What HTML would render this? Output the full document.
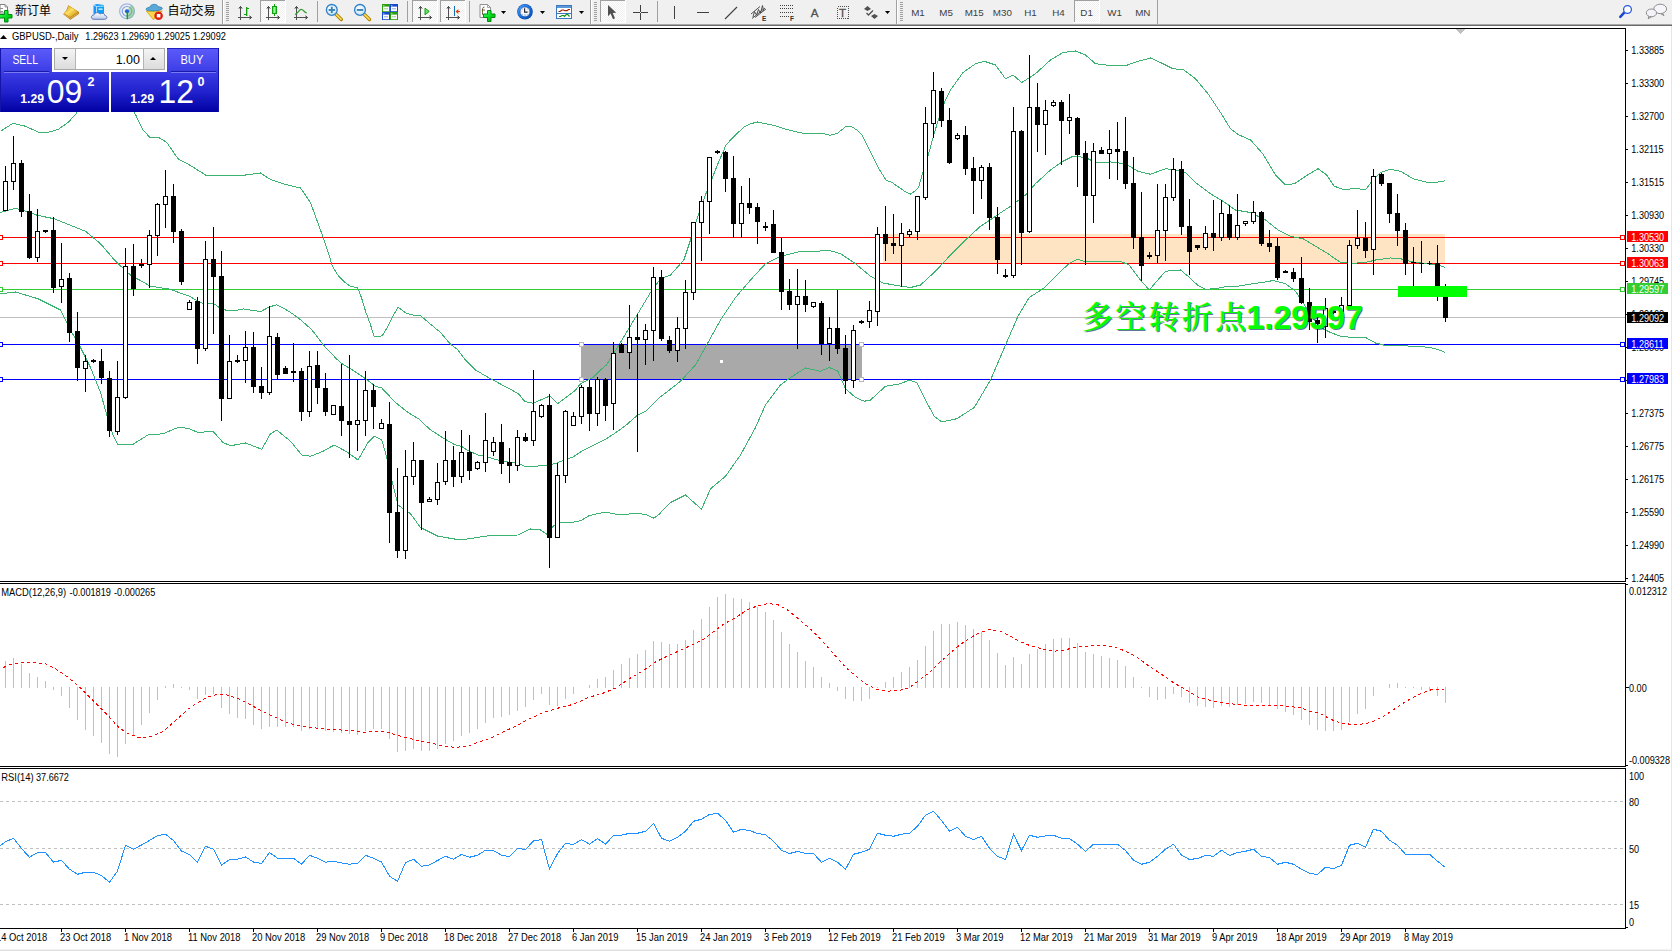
<!DOCTYPE html>
<html><head><meta charset="utf-8"><title>GBPUSD Daily</title>
<style>
html,body{margin:0;padding:0;background:#fff;}
body{width:1672px;height:951px;overflow:hidden;position:relative;font-family:"Liberation Sans","Noto Sans CJK SC",sans-serif;}
#tb{position:absolute;left:0;top:0;width:1672px;height:26px;background:#f0f0f0;}
</style></head><body>
<svg width="1672" height="951" viewBox="0 0 1672 951" style="position:absolute;left:0;top:0" shape-rendering="crispEdges"><rect x="0" y="26" width="1672" height="925" fill="#fff"/><defs><clipPath id="cm"><rect x="0" y="29" width="1625" height="552"/></clipPath><clipPath id="cmacd"><rect x="0" y="584" width="1625" height="182"/></clipPath><clipPath id="crsi"><rect x="0" y="769" width="1625" height="159"/></clipPath><linearGradient id="gb" x1="0" y1="0" x2="0" y2="1"><stop offset="0" stop-color="#5a5af8"/><stop offset="0.45" stop-color="#2222dc"/><stop offset="1" stop-color="#0000a8"/></linearGradient><linearGradient id="gb2" x1="0" y1="0" x2="0" y2="1"><stop offset="0" stop-color="#3a3aee"/><stop offset="0.5" stop-color="#1010c8"/><stop offset="1" stop-color="#0000a8"/></linearGradient><linearGradient id="gp" gradientUnits="userSpaceOnUse" x1="0" y1="48" x2="0" y2="112"><stop offset="0" stop-color="#5c5cfa"/><stop offset="0.38" stop-color="#3c3ce6"/><stop offset="0.7" stop-color="#2020cc"/><stop offset="1" stop-color="#0000a2"/></linearGradient><linearGradient id="gsp" x1="0" y1="0" x2="0" y2="1"><stop offset="0" stop-color="#f4f4f4"/><stop offset="1" stop-color="#dcdcdc"/></linearGradient></defs><g clip-path="url(#cm)"><rect x="883" y="234" width="562" height="30" fill="#ffe4c4"/><rect x="581" y="344" width="281" height="36" fill="#a9a9a9"/><rect x="0" y="317" width="1625" height="1" fill="#c0c0c0"/><rect x="0" y="237" width="1625" height="1" fill="#ff0000"/><rect x="0" y="263" width="1625" height="1" fill="#ff0000"/><rect x="0" y="289" width="1625" height="1" fill="#32cd32"/><rect x="0" y="344" width="1625" height="1" fill="#0000ff"/><rect x="0" y="379" width="1625" height="1" fill="#0000ff"/><path d="M0.50,131.25 L13.00,123.25 L25.50,126.25 L38.00,132.00 L45.50,133.00 L58.00,129.50 L68.00,122.50 L75.50,114.50 L85.50,100.00 L105.50,80.00 L120.50,90.00 L135.50,114.50 L143.00,130.00 L150.50,138.00 L158.00,137.00 L166.75,142.50 L178.00,158.75 L190.50,165.50 L205.50,175.00 L225.50,175.00 L245.50,175.00 L260.50,173.00 L270.50,179.50 L285.50,184.50 L300.50,188.00 L310.50,202.50 L320.50,230.00 L324.00,240.00 L328.30,253.00 L332.60,266.60 L338.40,275.90 L344.10,281.70 L349.90,286.00 L357.80,288.10 L361.40,297.50 L365.70,311.80 L370.00,323.30 L374.30,336.90 L382.20,335.90 L387.20,327.60 L392.90,316.10 L398.00,307.20 L405.80,313.00 L413.00,315.10 L420.50,315.50 L425.50,320.00 L440.50,332.50 L450.50,344.25 L458.00,350.00 L465.50,360.00 L475.50,370.00 L490.50,378.75 L511.80,390.00 L519.00,394.30 L524.70,401.50 L533.30,403.20 L540.50,400.00 L549.80,396.00 L557.70,403.60 L566.30,397.20 L575.00,390.70 L580.50,383.75 L593.00,377.50 L600.50,370.00 L606.50,365.00 L620.50,342.50 L635.50,317.50 L650.50,292.50 L660.50,278.75 L670.50,275.00 L683.90,259.90 L690.60,239.70 L697.30,217.80 L705.70,194.20 L712.50,177.40 L719.20,160.60 L725.90,145.40 L731.00,139.50 L737.70,132.80 L744.40,126.90 L751.20,123.60 L757.90,121.90 L764.60,123.60 L774.70,125.60 L784.80,128.90 L794.90,131.60 L803.30,133.30 L815.10,133.30 L823.50,133.70 L830.30,135.30 L837.80,133.10 L846.20,126.10 L852.10,126.90 L857.20,130.30 L862.20,135.30 L867.30,145.40 L874.00,158.90 L879.10,169.00 L885.80,179.90 L892.50,182.80 L899.20,187.50 L906.00,192.20 L910.20,194.20 L914.40,191.40 L918.60,187.50 L922.80,172.40 L926.20,162.30 L929.50,150.50 L934.60,132.00 L939.60,116.00 L945.50,100.00 L950.50,90.00 L963.00,72.50 L975.50,63.75 L984.25,61.25 L995.50,65.00 L1005.50,78.75 L1013.00,75.00 L1021.75,82.50 L1035.50,73.75 L1050.50,60.00 L1063.00,52.50 L1075.50,51.00 L1085.50,55.00 L1095.50,63.75 L1105.50,65.00 L1125.50,65.75 L1138.00,61.25 L1150.50,58.00 L1160.50,62.50 L1173.00,68.75 L1183.00,69.50 L1195.50,78.75 L1208.00,93.75 L1220.50,112.50 L1230.50,128.75 L1238.00,134.50 L1250.50,140.00 L1263.00,154.00 L1275.50,175.00 L1285.50,185.00 L1294.25,183.75 L1305.50,176.25 L1318.00,168.75 L1326.75,175.00 L1334.25,186.25 L1343.00,189.25 L1358.00,188.75 L1365.50,190.00 L1373.00,180.00 L1380.50,172.50 L1390.50,169.25 L1400.50,171.25 L1413.00,178.75 L1428.00,182.50 L1438.00,182.00 L1445.50,180.75" fill="none" stroke="#3cb371" stroke-width="1"/><path d="M0.50,212.50 L15.50,208.25 L25.50,211.25 L38.00,215.50 L54.25,218.75 L85.50,231.25 L100.50,243.75 L115.50,261.25 L130.50,275.00 L150.50,286.25 L170.50,289.25 L180.50,293.20 L189.10,296.00 L196.30,300.30 L203.50,303.50 L213.50,303.50 L219.30,307.50 L226.40,310.40 L237.90,310.10 L243.70,308.90 L250.80,310.10 L260.90,311.50 L269.50,306.80 L276.70,304.90 L281.00,306.80 L289.60,311.80 L298.20,317.80 L305.40,324.00 L311.10,329.00 L316.90,336.20 L322.60,344.10 L329.80,352.00 L336.90,359.20 L342.70,364.20 L350.50,368.75 L365.50,378.75 L375.50,386.25 L381.75,388.00 L395.50,402.50 L408.00,412.50 L418.50,418.70 L430.00,429.50 L444.30,438.80 L454.40,444.50 L461.50,446.30 L468.70,451.00 L478.80,455.30 L487.40,456.70 L496.00,459.60 L504.60,461.80 L514.70,462.50 L524.70,466.10 L536.20,466.10 L547.70,465.40 L556.30,463.20 L563.50,460.30 L573.50,456.70 L582.10,451.00 L593.60,445.30 L605.10,439.50 L615.10,433.10 L625.20,425.90 L636.70,415.80 L645.30,411.50 L653.90,402.90 L658.50,398.30 L663.00,395.00 L680.50,381.25 L695.50,365.00 L708.00,342.50 L720.50,320.00 L735.50,297.50 L750.50,280.00 L765.50,263.75 L780.50,256.25 L798.00,252.00 L810.50,251.25 L830.50,250.75 L840.50,253.75 L855.50,263.75 L870.50,276.25 L883.00,283.00 L898.00,285.75 L910.50,287.50 L920.50,285.00 L935.50,271.25 L950.50,255.00 L965.50,240.00 L980.50,226.25 L995.50,216.25 L1010.50,206.25 L1025.50,195.00 L1035.50,183.75 L1050.50,170.00 L1063.00,161.25 L1073.00,156.25 L1085.50,157.50 L1095.50,162.50 L1110.50,162.00 L1125.50,163.75 L1138.00,171.25 L1150.50,174.25 L1165.50,168.75 L1175.50,170.00 L1185.50,172.50 L1195.50,182.50 L1210.50,193.75 L1223.00,201.25 L1235.50,210.00 L1250.50,212.50 L1265.50,220.00 L1278.00,230.00 L1290.50,236.25 L1303.00,238.75 L1315.50,246.25 L1328.00,253.75 L1340.50,262.50 L1353.00,263.25 L1365.50,262.50 L1375.50,260.00 L1390.50,258.00 L1400.50,258.75 L1413.00,262.00 L1428.00,263.75 L1438.00,265.00 L1445.50,267.50" fill="none" stroke="#3cb371" stroke-width="1"/><path d="M0.50,293.75 L15.50,292.00 L38.00,298.75 L60.50,310.00 L70.50,330.00 L80.50,347.50 L90.50,367.50 L100.50,392.50 L106.75,415.00 L113.00,435.00 L118.00,445.00 L133.00,444.25 L148.00,435.00 L163.00,433.75 L178.00,427.50 L188.00,428.25 L198.00,432.50 L213.00,431.25 L223.00,442.50 L230.50,445.75 L245.50,443.00 L261.75,449.25 L270.50,433.75 L276.75,430.00 L290.50,441.25 L301.75,455.00 L310.50,456.25 L323.00,451.25 L334.25,445.00 L348.00,452.50 L358.00,460.00 L368.00,442.50 L374.25,436.25 L381.75,440.00 L386.75,457.50 L393.00,485.00 L398.00,505.00 L410.50,513.75 L420.50,527.50 L438.00,536.25 L460.50,540.00 L490.50,535.50 L518.00,535.00 L530.50,529.00 L540.50,530.00 L548.00,535.00 L553.00,526.25 L559.90,522.00 L570.60,522.80 L580.70,520.60 L589.30,515.60 L605.10,512.00 L619.50,514.90 L638.10,513.20 L646.70,514.90 L653.90,518.20 L658.50,514.90 L670.50,502.50 L685.50,495.00 L701.50,509.25 L710.50,488.75 L725.50,476.25 L740.50,455.00 L755.50,427.50 L765.50,405.00 L780.50,385.00 L790.50,377.50 L805.50,368.00 L820.50,371.25 L829.25,367.50 L838.00,371.25 L845.50,388.75 L855.50,397.50 L864.25,401.25 L870.50,400.00 L885.50,386.25 L900.50,383.75 L909.25,380.00 L916.75,382.50 L925.50,400.00 L934.25,416.25 L941.75,422.00 L956.75,418.75 L974.25,407.50 L990.50,380.00 L1005.50,345.00 L1018.00,316.25 L1029.25,297.50 L1043.00,288.75 L1060.50,271.25 L1070.50,262.50 L1078.00,259.25 L1085.50,262.00 L1100.50,261.25 L1120.50,261.25 L1129.25,265.00 L1140.50,280.00 L1149.25,290.00 L1156.75,281.25 L1165.50,271.25 L1180.50,270.00 L1188.00,276.25 L1198.00,285.50 L1205.50,289.25 L1215.50,288.75 L1225.50,286.75 L1238.00,286.25 L1253.00,283.75 L1265.50,282.00 L1273.00,280.50 L1285.50,283.75 L1295.50,291.25 L1303.00,302.50 L1310.50,315.00 L1320.50,327.50 L1330.50,332.50 L1340.50,336.25 L1353.00,337.50 L1365.50,337.50 L1375.50,343.00 L1385.50,345.50 L1400.50,345.75 L1415.50,346.25 L1430.50,347.50 L1438.00,349.50 L1445.50,352.50" fill="none" stroke="#3cb371" stroke-width="1"/><rect x="5" y="166" width="1" height="45" fill="#000"/><rect x="3" y="181" width="5" height="30" fill="#000"/><rect x="4" y="182" width="3" height="28" fill="#fff"/><rect x="13" y="136" width="1" height="54" fill="#000"/><rect x="11" y="163" width="5" height="19" fill="#000"/><rect x="12" y="164" width="3" height="17" fill="#fff"/><rect x="21" y="160" width="1" height="57" fill="#000"/><rect x="19" y="163" width="5" height="49" fill="#000"/><rect x="29" y="194" width="1" height="65" fill="#000"/><rect x="27" y="211" width="5" height="47" fill="#000"/><rect x="37" y="209" width="1" height="53" fill="#000"/><rect x="35" y="231" width="5" height="27" fill="#000"/><rect x="36" y="232" width="3" height="25" fill="#fff"/><rect x="45" y="230" width="1" height="3" fill="#000"/><rect x="43" y="230" width="5" height="2" fill="#000"/><rect x="53" y="217" width="1" height="76" fill="#000"/><rect x="51" y="230" width="5" height="58" fill="#000"/><rect x="61" y="243" width="1" height="60" fill="#000"/><rect x="59" y="279" width="5" height="8" fill="#000"/><rect x="60" y="280" width="3" height="6" fill="#fff"/><rect x="69" y="273" width="1" height="69" fill="#000"/><rect x="67" y="278" width="5" height="55" fill="#000"/><rect x="77" y="312" width="1" height="69" fill="#000"/><rect x="75" y="331" width="5" height="37" fill="#000"/><rect x="85" y="355" width="1" height="37" fill="#000"/><rect x="83" y="361" width="5" height="8" fill="#000"/><rect x="84" y="362" width="3" height="6" fill="#fff"/><rect x="93" y="359" width="1" height="4" fill="#000"/><rect x="91" y="360" width="5" height="2" fill="#000"/><rect x="101" y="349" width="1" height="35" fill="#000"/><rect x="99" y="361" width="5" height="17" fill="#000"/><rect x="109" y="371" width="1" height="66" fill="#000"/><rect x="107" y="378" width="5" height="53" fill="#000"/><rect x="117" y="361" width="1" height="74" fill="#000"/><rect x="115" y="397" width="5" height="35" fill="#000"/><rect x="116" y="398" width="3" height="33" fill="#fff"/><rect x="125" y="248" width="1" height="151" fill="#000"/><rect x="123" y="266" width="5" height="132" fill="#000"/><rect x="124" y="267" width="3" height="130" fill="#fff"/><rect x="133" y="244" width="1" height="52" fill="#000"/><rect x="131" y="266" width="5" height="23" fill="#000"/><rect x="141" y="259" width="1" height="9" fill="#000"/><rect x="139" y="264" width="5" height="2" fill="#000"/><rect x="149" y="230" width="1" height="58" fill="#000"/><rect x="147" y="235" width="5" height="30" fill="#000"/><rect x="148" y="236" width="3" height="28" fill="#fff"/><rect x="157" y="203" width="1" height="53" fill="#000"/><rect x="155" y="204" width="5" height="32" fill="#000"/><rect x="156" y="205" width="3" height="30" fill="#fff"/><rect x="165" y="170" width="1" height="58" fill="#000"/><rect x="163" y="196" width="5" height="9" fill="#000"/><rect x="164" y="197" width="3" height="7" fill="#fff"/><rect x="173" y="184" width="1" height="59" fill="#000"/><rect x="171" y="196" width="5" height="36" fill="#000"/><rect x="181" y="229" width="1" height="56" fill="#000"/><rect x="179" y="231" width="5" height="51" fill="#000"/><rect x="189" y="300" width="1" height="10" fill="#000"/><rect x="187" y="302" width="5" height="8" fill="#000"/><rect x="188" y="303" width="3" height="6" fill="#fff"/><rect x="197" y="297" width="1" height="67" fill="#000"/><rect x="195" y="301" width="5" height="48" fill="#000"/><rect x="205" y="241" width="1" height="110" fill="#000"/><rect x="203" y="259" width="5" height="90" fill="#000"/><rect x="204" y="260" width="3" height="88" fill="#fff"/><rect x="213" y="227" width="1" height="107" fill="#000"/><rect x="211" y="259" width="5" height="18" fill="#000"/><rect x="221" y="251" width="1" height="170" fill="#000"/><rect x="219" y="276" width="5" height="123" fill="#000"/><rect x="229" y="335" width="1" height="64" fill="#000"/><rect x="227" y="361" width="5" height="38" fill="#000"/><rect x="228" y="362" width="3" height="36" fill="#fff"/><rect x="237" y="355" width="1" height="8" fill="#000"/><rect x="235" y="360" width="5" height="2" fill="#000"/><rect x="245" y="331" width="1" height="52" fill="#000"/><rect x="243" y="347" width="5" height="14" fill="#000"/><rect x="244" y="348" width="3" height="12" fill="#fff"/><rect x="253" y="332" width="1" height="61" fill="#000"/><rect x="251" y="347" width="5" height="40" fill="#000"/><rect x="261" y="367" width="1" height="32" fill="#000"/><rect x="259" y="386" width="5" height="7" fill="#000"/><rect x="269" y="306" width="1" height="89" fill="#000"/><rect x="267" y="336" width="5" height="57" fill="#000"/><rect x="268" y="337" width="3" height="55" fill="#fff"/><rect x="277" y="333" width="1" height="47" fill="#000"/><rect x="275" y="337" width="5" height="38" fill="#000"/><rect x="285" y="366" width="1" height="8" fill="#000"/><rect x="283" y="368" width="5" height="6" fill="#000"/><rect x="293" y="343" width="1" height="39" fill="#000"/><rect x="291" y="371" width="5" height="2" fill="#000"/><rect x="301" y="368" width="1" height="53" fill="#000"/><rect x="299" y="371" width="5" height="41" fill="#000"/><rect x="309" y="351" width="1" height="66" fill="#000"/><rect x="307" y="366" width="5" height="46" fill="#000"/><rect x="308" y="367" width="3" height="44" fill="#fff"/><rect x="317" y="351" width="1" height="53" fill="#000"/><rect x="315" y="365" width="5" height="23" fill="#000"/><rect x="325" y="373" width="1" height="43" fill="#000"/><rect x="323" y="388" width="5" height="24" fill="#000"/><rect x="333" y="405" width="1" height="10" fill="#000"/><rect x="331" y="405" width="5" height="10" fill="#000"/><rect x="332" y="406" width="3" height="8" fill="#fff"/><rect x="341" y="364" width="1" height="72" fill="#000"/><rect x="339" y="406" width="5" height="15" fill="#000"/><rect x="349" y="355" width="1" height="103" fill="#000"/><rect x="347" y="421" width="5" height="4" fill="#000"/><rect x="357" y="379" width="1" height="72" fill="#000"/><rect x="355" y="420" width="5" height="5" fill="#000"/><rect x="356" y="421" width="3" height="3" fill="#fff"/><rect x="365" y="371" width="1" height="65" fill="#000"/><rect x="363" y="390" width="5" height="31" fill="#000"/><rect x="364" y="391" width="3" height="29" fill="#fff"/><rect x="373" y="384" width="1" height="45" fill="#000"/><rect x="371" y="390" width="5" height="17" fill="#000"/><rect x="381" y="419" width="1" height="10" fill="#000"/><rect x="379" y="423" width="5" height="6" fill="#000"/><rect x="380" y="424" width="3" height="4" fill="#fff"/><rect x="389" y="402" width="1" height="141" fill="#000"/><rect x="387" y="424" width="5" height="89" fill="#000"/><rect x="397" y="468" width="1" height="90" fill="#000"/><rect x="395" y="512" width="5" height="39" fill="#000"/><rect x="405" y="450" width="1" height="109" fill="#000"/><rect x="403" y="476" width="5" height="75" fill="#000"/><rect x="404" y="477" width="3" height="73" fill="#fff"/><rect x="413" y="442" width="1" height="43" fill="#000"/><rect x="411" y="460" width="5" height="17" fill="#000"/><rect x="412" y="461" width="3" height="15" fill="#fff"/><rect x="421" y="460" width="1" height="70" fill="#000"/><rect x="419" y="460" width="5" height="43" fill="#000"/><rect x="429" y="497" width="1" height="5" fill="#000"/><rect x="427" y="499" width="5" height="3" fill="#000"/><rect x="428" y="500" width="3" height="1" fill="#fff"/><rect x="437" y="463" width="1" height="42" fill="#000"/><rect x="435" y="482" width="5" height="18" fill="#000"/><rect x="436" y="483" width="3" height="16" fill="#fff"/><rect x="445" y="431" width="1" height="54" fill="#000"/><rect x="443" y="460" width="5" height="22" fill="#000"/><rect x="444" y="461" width="3" height="20" fill="#fff"/><rect x="453" y="446" width="1" height="41" fill="#000"/><rect x="451" y="460" width="5" height="17" fill="#000"/><rect x="461" y="430" width="1" height="53" fill="#000"/><rect x="459" y="452" width="5" height="25" fill="#000"/><rect x="460" y="453" width="3" height="23" fill="#fff"/><rect x="469" y="435" width="1" height="45" fill="#000"/><rect x="467" y="452" width="5" height="19" fill="#000"/><rect x="477" y="461" width="1" height="9" fill="#000"/><rect x="475" y="462" width="5" height="7" fill="#000"/><rect x="476" y="463" width="3" height="5" fill="#fff"/><rect x="485" y="413" width="1" height="59" fill="#000"/><rect x="483" y="440" width="5" height="23" fill="#000"/><rect x="484" y="441" width="3" height="21" fill="#fff"/><rect x="493" y="437" width="1" height="19" fill="#000"/><rect x="491" y="442" width="5" height="10" fill="#000"/><rect x="492" y="443" width="3" height="8" fill="#fff"/><rect x="501" y="424" width="1" height="50" fill="#000"/><rect x="499" y="442" width="5" height="22" fill="#000"/><rect x="509" y="448" width="1" height="35" fill="#000"/><rect x="507" y="462" width="5" height="4" fill="#000"/><rect x="517" y="430" width="1" height="41" fill="#000"/><rect x="515" y="437" width="5" height="29" fill="#000"/><rect x="516" y="438" width="3" height="27" fill="#fff"/><rect x="525" y="433" width="1" height="9" fill="#000"/><rect x="523" y="437" width="5" height="4" fill="#000"/><rect x="533" y="370" width="1" height="76" fill="#000"/><rect x="531" y="411" width="5" height="30" fill="#000"/><rect x="532" y="412" width="3" height="28" fill="#fff"/><rect x="541" y="404" width="1" height="14" fill="#000"/><rect x="539" y="405" width="5" height="12" fill="#000"/><rect x="540" y="406" width="3" height="10" fill="#fff"/><rect x="549" y="394" width="1" height="174" fill="#000"/><rect x="547" y="405" width="5" height="133" fill="#000"/><rect x="557" y="463" width="1" height="75" fill="#000"/><rect x="555" y="475" width="5" height="63" fill="#000"/><rect x="556" y="476" width="3" height="61" fill="#fff"/><rect x="565" y="410" width="1" height="73" fill="#000"/><rect x="563" y="411" width="5" height="65" fill="#000"/><rect x="564" y="412" width="3" height="63" fill="#fff"/><rect x="573" y="412" width="1" height="14" fill="#000"/><rect x="571" y="416" width="5" height="10" fill="#000"/><rect x="572" y="417" width="3" height="8" fill="#fff"/><rect x="581" y="385" width="1" height="39" fill="#000"/><rect x="579" y="387" width="5" height="30" fill="#000"/><rect x="580" y="388" width="3" height="28" fill="#fff"/><rect x="589" y="380" width="1" height="51" fill="#000"/><rect x="587" y="387" width="5" height="27" fill="#000"/><rect x="597" y="377" width="1" height="49" fill="#000"/><rect x="595" y="379" width="5" height="35" fill="#000"/><rect x="596" y="380" width="3" height="33" fill="#fff"/><rect x="605" y="378" width="1" height="43" fill="#000"/><rect x="603" y="379" width="5" height="27" fill="#000"/><rect x="613" y="342" width="1" height="88" fill="#000"/><rect x="611" y="353" width="5" height="51" fill="#000"/><rect x="612" y="354" width="3" height="49" fill="#fff"/><rect x="621" y="343" width="1" height="10" fill="#000"/><rect x="619" y="344" width="5" height="9" fill="#000"/><rect x="629" y="305" width="1" height="64" fill="#000"/><rect x="627" y="337" width="5" height="16" fill="#000"/><rect x="628" y="338" width="3" height="14" fill="#fff"/><rect x="637" y="314" width="1" height="138" fill="#000"/><rect x="635" y="337" width="5" height="3" fill="#000"/><rect x="645" y="324" width="1" height="41" fill="#000"/><rect x="643" y="330" width="5" height="10" fill="#000"/><rect x="644" y="331" width="3" height="8" fill="#fff"/><rect x="653" y="267" width="1" height="94" fill="#000"/><rect x="651" y="277" width="5" height="54" fill="#000"/><rect x="652" y="278" width="3" height="52" fill="#fff"/><rect x="661" y="270" width="1" height="71" fill="#000"/><rect x="659" y="277" width="5" height="62" fill="#000"/><rect x="669" y="336" width="1" height="17" fill="#000"/><rect x="667" y="340" width="5" height="11" fill="#000"/><rect x="677" y="317" width="1" height="45" fill="#000"/><rect x="675" y="328" width="5" height="23" fill="#000"/><rect x="676" y="329" width="3" height="21" fill="#fff"/><rect x="685" y="280" width="1" height="69" fill="#000"/><rect x="683" y="292" width="5" height="37" fill="#000"/><rect x="684" y="293" width="3" height="35" fill="#fff"/><rect x="693" y="222" width="1" height="78" fill="#000"/><rect x="691" y="222" width="5" height="71" fill="#000"/><rect x="692" y="223" width="3" height="69" fill="#fff"/><rect x="701" y="196" width="1" height="65" fill="#000"/><rect x="699" y="201" width="5" height="22" fill="#000"/><rect x="700" y="202" width="3" height="20" fill="#fff"/><rect x="709" y="157" width="1" height="77" fill="#000"/><rect x="707" y="157" width="5" height="45" fill="#000"/><rect x="708" y="158" width="3" height="43" fill="#fff"/><rect x="717" y="150" width="1" height="4" fill="#000"/><rect x="715" y="151" width="5" height="2" fill="#000"/><rect x="725" y="151" width="1" height="41" fill="#000"/><rect x="723" y="152" width="5" height="27" fill="#000"/><rect x="733" y="156" width="1" height="82" fill="#000"/><rect x="731" y="178" width="5" height="46" fill="#000"/><rect x="741" y="186" width="1" height="52" fill="#000"/><rect x="739" y="203" width="5" height="21" fill="#000"/><rect x="740" y="204" width="3" height="19" fill="#fff"/><rect x="749" y="178" width="1" height="36" fill="#000"/><rect x="747" y="203" width="5" height="5" fill="#000"/><rect x="757" y="203" width="1" height="41" fill="#000"/><rect x="755" y="207" width="5" height="15" fill="#000"/><rect x="765" y="222" width="1" height="9" fill="#000"/><rect x="763" y="226" width="5" height="2" fill="#000"/><rect x="773" y="210" width="1" height="43" fill="#000"/><rect x="771" y="224" width="5" height="29" fill="#000"/><rect x="781" y="238" width="1" height="72" fill="#000"/><rect x="779" y="252" width="5" height="40" fill="#000"/><rect x="789" y="279" width="1" height="31" fill="#000"/><rect x="787" y="291" width="5" height="14" fill="#000"/><rect x="797" y="269" width="1" height="80" fill="#000"/><rect x="795" y="296" width="5" height="9" fill="#000"/><rect x="796" y="297" width="3" height="7" fill="#fff"/><rect x="805" y="280" width="1" height="32" fill="#000"/><rect x="803" y="296" width="5" height="9" fill="#000"/><rect x="813" y="302" width="1" height="6" fill="#000"/><rect x="811" y="302" width="5" height="5" fill="#000"/><rect x="812" y="303" width="3" height="3" fill="#fff"/><rect x="821" y="301" width="1" height="54" fill="#000"/><rect x="819" y="303" width="5" height="41" fill="#000"/><rect x="829" y="317" width="1" height="44" fill="#000"/><rect x="827" y="328" width="5" height="16" fill="#000"/><rect x="828" y="329" width="3" height="14" fill="#fff"/><rect x="837" y="290" width="1" height="64" fill="#000"/><rect x="835" y="328" width="5" height="21" fill="#000"/><rect x="845" y="335" width="1" height="59" fill="#000"/><rect x="843" y="348" width="5" height="33" fill="#000"/><rect x="853" y="325" width="1" height="63" fill="#000"/><rect x="851" y="330" width="5" height="51" fill="#000"/><rect x="852" y="331" width="3" height="49" fill="#fff"/><rect x="861" y="320" width="1" height="4" fill="#000"/><rect x="859" y="321" width="5" height="2" fill="#000"/><rect x="869" y="301" width="1" height="27" fill="#000"/><rect x="867" y="310" width="5" height="12" fill="#000"/><rect x="868" y="311" width="3" height="10" fill="#fff"/><rect x="877" y="227" width="1" height="99" fill="#000"/><rect x="875" y="234" width="5" height="78" fill="#000"/><rect x="876" y="235" width="3" height="76" fill="#fff"/><rect x="885" y="206" width="1" height="55" fill="#000"/><rect x="883" y="234" width="5" height="10" fill="#000"/><rect x="893" y="214" width="1" height="40" fill="#000"/><rect x="891" y="243" width="5" height="3" fill="#000"/><rect x="901" y="223" width="1" height="64" fill="#000"/><rect x="899" y="233" width="5" height="13" fill="#000"/><rect x="900" y="234" width="3" height="11" fill="#fff"/><rect x="909" y="229" width="1" height="8" fill="#000"/><rect x="907" y="231" width="5" height="4" fill="#000"/><rect x="908" y="232" width="3" height="2" fill="#fff"/><rect x="917" y="196" width="1" height="44" fill="#000"/><rect x="915" y="196" width="5" height="36" fill="#000"/><rect x="916" y="197" width="3" height="34" fill="#fff"/><rect x="925" y="107" width="1" height="93" fill="#000"/><rect x="923" y="123" width="5" height="75" fill="#000"/><rect x="924" y="124" width="3" height="73" fill="#fff"/><rect x="933" y="72" width="1" height="66" fill="#000"/><rect x="931" y="90" width="5" height="34" fill="#000"/><rect x="932" y="91" width="3" height="32" fill="#fff"/><rect x="941" y="88" width="1" height="39" fill="#000"/><rect x="939" y="91" width="5" height="30" fill="#000"/><rect x="949" y="108" width="1" height="56" fill="#000"/><rect x="947" y="120" width="5" height="43" fill="#000"/><rect x="957" y="133" width="1" height="7" fill="#000"/><rect x="955" y="135" width="5" height="4" fill="#000"/><rect x="956" y="136" width="3" height="2" fill="#fff"/><rect x="965" y="126" width="1" height="49" fill="#000"/><rect x="963" y="135" width="5" height="34" fill="#000"/><rect x="973" y="157" width="1" height="57" fill="#000"/><rect x="971" y="168" width="5" height="13" fill="#000"/><rect x="981" y="165" width="1" height="34" fill="#000"/><rect x="979" y="167" width="5" height="14" fill="#000"/><rect x="980" y="168" width="3" height="12" fill="#fff"/><rect x="989" y="163" width="1" height="67" fill="#000"/><rect x="987" y="167" width="5" height="51" fill="#000"/><rect x="997" y="207" width="1" height="67" fill="#000"/><rect x="995" y="217" width="5" height="43" fill="#000"/><rect x="1005" y="269" width="1" height="9" fill="#000"/><rect x="1003" y="275" width="5" height="2" fill="#000"/><rect x="1013" y="107" width="1" height="171" fill="#000"/><rect x="1011" y="131" width="5" height="145" fill="#000"/><rect x="1012" y="132" width="3" height="143" fill="#fff"/><rect x="1021" y="130" width="1" height="135" fill="#000"/><rect x="1019" y="131" width="5" height="102" fill="#000"/><rect x="1029" y="55" width="1" height="178" fill="#000"/><rect x="1027" y="107" width="5" height="125" fill="#000"/><rect x="1028" y="108" width="3" height="123" fill="#fff"/><rect x="1037" y="83" width="1" height="69" fill="#000"/><rect x="1035" y="107" width="5" height="18" fill="#000"/><rect x="1045" y="100" width="1" height="55" fill="#000"/><rect x="1043" y="110" width="5" height="15" fill="#000"/><rect x="1044" y="111" width="3" height="13" fill="#fff"/><rect x="1053" y="100" width="1" height="7" fill="#000"/><rect x="1051" y="102" width="5" height="4" fill="#000"/><rect x="1052" y="103" width="3" height="2" fill="#fff"/><rect x="1061" y="100" width="1" height="65" fill="#000"/><rect x="1059" y="102" width="5" height="19" fill="#000"/><rect x="1069" y="94" width="1" height="40" fill="#000"/><rect x="1067" y="117" width="5" height="4" fill="#000"/><rect x="1068" y="118" width="3" height="2" fill="#fff"/><rect x="1077" y="117" width="1" height="70" fill="#000"/><rect x="1075" y="118" width="5" height="37" fill="#000"/><rect x="1085" y="141" width="1" height="124" fill="#000"/><rect x="1083" y="153" width="5" height="43" fill="#000"/><rect x="1093" y="143" width="1" height="80" fill="#000"/><rect x="1091" y="151" width="5" height="45" fill="#000"/><rect x="1092" y="152" width="3" height="43" fill="#fff"/><rect x="1101" y="147" width="1" height="7" fill="#000"/><rect x="1099" y="150" width="5" height="4" fill="#000"/><rect x="1109" y="130" width="1" height="49" fill="#000"/><rect x="1107" y="149" width="5" height="5" fill="#000"/><rect x="1108" y="150" width="3" height="3" fill="#fff"/><rect x="1117" y="122" width="1" height="58" fill="#000"/><rect x="1115" y="149" width="5" height="3" fill="#000"/><rect x="1125" y="117" width="1" height="72" fill="#000"/><rect x="1123" y="151" width="5" height="33" fill="#000"/><rect x="1133" y="157" width="1" height="92" fill="#000"/><rect x="1131" y="183" width="5" height="55" fill="#000"/><rect x="1141" y="192" width="1" height="89" fill="#000"/><rect x="1139" y="237" width="5" height="29" fill="#000"/><rect x="1149" y="252" width="1" height="7" fill="#000"/><rect x="1147" y="255" width="5" height="2" fill="#000"/><rect x="1157" y="184" width="1" height="79" fill="#000"/><rect x="1155" y="230" width="5" height="26" fill="#000"/><rect x="1156" y="231" width="3" height="24" fill="#fff"/><rect x="1165" y="184" width="1" height="77" fill="#000"/><rect x="1163" y="197" width="5" height="34" fill="#000"/><rect x="1164" y="198" width="3" height="32" fill="#fff"/><rect x="1173" y="158" width="1" height="43" fill="#000"/><rect x="1171" y="169" width="5" height="29" fill="#000"/><rect x="1172" y="170" width="3" height="27" fill="#fff"/><rect x="1181" y="161" width="1" height="74" fill="#000"/><rect x="1179" y="169" width="5" height="58" fill="#000"/><rect x="1189" y="199" width="1" height="76" fill="#000"/><rect x="1187" y="226" width="5" height="26" fill="#000"/><rect x="1197" y="245" width="1" height="5" fill="#000"/><rect x="1195" y="245" width="5" height="3" fill="#000"/><rect x="1205" y="226" width="1" height="24" fill="#000"/><rect x="1203" y="233" width="5" height="15" fill="#000"/><rect x="1204" y="234" width="3" height="13" fill="#fff"/><rect x="1213" y="200" width="1" height="51" fill="#000"/><rect x="1211" y="233" width="5" height="5" fill="#000"/><rect x="1221" y="200" width="1" height="41" fill="#000"/><rect x="1219" y="213" width="5" height="25" fill="#000"/><rect x="1220" y="214" width="3" height="23" fill="#fff"/><rect x="1229" y="205" width="1" height="35" fill="#000"/><rect x="1227" y="214" width="5" height="24" fill="#000"/><rect x="1237" y="194" width="1" height="46" fill="#000"/><rect x="1235" y="225" width="5" height="13" fill="#000"/><rect x="1236" y="226" width="3" height="11" fill="#fff"/><rect x="1245" y="221" width="1" height="5" fill="#000"/><rect x="1243" y="221" width="5" height="3" fill="#000"/><rect x="1244" y="222" width="3" height="1" fill="#fff"/><rect x="1253" y="201" width="1" height="23" fill="#000"/><rect x="1251" y="212" width="5" height="10" fill="#000"/><rect x="1252" y="213" width="3" height="8" fill="#fff"/><rect x="1261" y="211" width="1" height="35" fill="#000"/><rect x="1259" y="212" width="5" height="32" fill="#000"/><rect x="1269" y="230" width="1" height="22" fill="#000"/><rect x="1267" y="243" width="5" height="4" fill="#000"/><rect x="1277" y="238" width="1" height="42" fill="#000"/><rect x="1275" y="246" width="5" height="32" fill="#000"/><rect x="1285" y="270" width="1" height="3" fill="#000"/><rect x="1283" y="271" width="5" height="2" fill="#000"/><rect x="1293" y="268" width="1" height="14" fill="#000"/><rect x="1291" y="272" width="5" height="7" fill="#000"/><rect x="1301" y="257" width="1" height="47" fill="#000"/><rect x="1299" y="278" width="5" height="25" fill="#000"/><rect x="1309" y="288" width="1" height="42" fill="#000"/><rect x="1307" y="302" width="5" height="20" fill="#000"/><rect x="1317" y="315" width="1" height="28" fill="#000"/><rect x="1315" y="320" width="5" height="4" fill="#000"/><rect x="1325" y="298" width="1" height="40" fill="#000"/><rect x="1323" y="308" width="5" height="19" fill="#000"/><rect x="1324" y="309" width="3" height="17" fill="#fff"/><rect x="1333" y="310" width="1" height="4" fill="#000"/><rect x="1331" y="311" width="5" height="2" fill="#000"/><rect x="1341" y="297" width="1" height="19" fill="#000"/><rect x="1339" y="305" width="5" height="7" fill="#000"/><rect x="1340" y="306" width="3" height="5" fill="#fff"/><rect x="1349" y="240" width="1" height="67" fill="#000"/><rect x="1347" y="245" width="5" height="61" fill="#000"/><rect x="1348" y="246" width="3" height="59" fill="#fff"/><rect x="1357" y="210" width="1" height="39" fill="#000"/><rect x="1355" y="238" width="5" height="8" fill="#000"/><rect x="1356" y="239" width="3" height="6" fill="#fff"/><rect x="1365" y="222" width="1" height="36" fill="#000"/><rect x="1363" y="238" width="5" height="13" fill="#000"/><rect x="1373" y="169" width="1" height="106" fill="#000"/><rect x="1371" y="176" width="5" height="74" fill="#000"/><rect x="1372" y="177" width="3" height="72" fill="#fff"/><rect x="1381" y="173" width="1" height="13" fill="#000"/><rect x="1379" y="174" width="5" height="10" fill="#000"/><rect x="1389" y="183" width="1" height="40" fill="#000"/><rect x="1387" y="183" width="5" height="31" fill="#000"/><rect x="1397" y="194" width="1" height="52" fill="#000"/><rect x="1395" y="213" width="5" height="18" fill="#000"/><rect x="1405" y="223" width="1" height="52" fill="#000"/><rect x="1403" y="230" width="5" height="34" fill="#000"/><rect x="1413" y="247" width="1" height="40" fill="#000"/><rect x="1411" y="262" width="5" height="1" fill="#000"/><rect x="1421" y="241" width="1" height="32" fill="#000"/><rect x="1419" y="263" width="5" height="1" fill="#000"/><rect x="1429" y="261" width="1" height="4" fill="#000"/><rect x="1427" y="263" width="5" height="1" fill="#000"/><rect x="1437" y="245" width="1" height="56" fill="#000"/><rect x="1435" y="263" width="5" height="24" fill="#000"/><rect x="1445" y="284" width="1" height="38" fill="#000"/><rect x="1443" y="287" width="5" height="31" fill="#000"/><text x="1083.3" y="328.9" fill="#001a60" opacity="0.6" style="shape-rendering:auto"><tspan font-family="Noto Serif CJK SC, serif" font-weight="600" font-size="30.8" letter-spacing="2.53">多空转折点</tspan><tspan font-family="Liberation Sans, sans-serif" font-weight="bold" font-size="33.33" x="1247.6" y="329.5" textLength="116.2" lengthAdjust="spacingAndGlyphs">1.29597</tspan></text><text x="1081.7" y="328.4" fill="#c8d800" opacity="0.5" style="shape-rendering:auto"><tspan font-family="Noto Serif CJK SC, serif" font-weight="600" font-size="30.8" letter-spacing="2.53">多空转折点</tspan><tspan font-family="Liberation Sans, sans-serif" font-weight="bold" font-size="33.33" x="1246.0" y="329" textLength="116.2" lengthAdjust="spacingAndGlyphs">1.29597</tspan></text><text x="1082.3" y="328.4" fill="#00ff00" opacity="1" style="shape-rendering:auto"><tspan font-family="Noto Serif CJK SC, serif" font-weight="600" font-size="30.8" letter-spacing="2.53">多空转折点</tspan><tspan font-family="Liberation Sans, sans-serif" font-weight="bold" font-size="33.33" x="1246.6" y="329" textLength="116.2" lengthAdjust="spacingAndGlyphs">1.29597</tspan></text><rect x="1398" y="286" width="69" height="11" fill="#00ff00"/><rect x="579.5" y="342.5" width="4" height="4" fill="#fff" stroke="#b8b8b8" stroke-width="1"/><rect x="859.5" y="342.5" width="4" height="4" fill="#fff" stroke="#b8b8b8" stroke-width="1"/><rect x="579.5" y="377.5" width="4" height="4" fill="#fff" stroke="#b8b8b8" stroke-width="1"/><rect x="859.5" y="377.5" width="4" height="4" fill="#fff" stroke="#b8b8b8" stroke-width="1"/><rect x="720" y="360" width="3" height="3" fill="#fff"/><rect x="-1.5" y="235.5" width="4" height="4" fill="#fff" stroke="#ff0000" stroke-width="1"/><rect x="1620.5" y="235.5" width="4" height="4" fill="#fff" stroke="#ff0000" stroke-width="1"/><rect x="-1.5" y="261.5" width="4" height="4" fill="#fff" stroke="#ff0000" stroke-width="1"/><rect x="1620.5" y="261.5" width="4" height="4" fill="#fff" stroke="#ff0000" stroke-width="1"/><rect x="-1.5" y="287.5" width="4" height="4" fill="#fff" stroke="#32cd32" stroke-width="1"/><rect x="1620.5" y="287.5" width="4" height="4" fill="#fff" stroke="#32cd32" stroke-width="1"/><rect x="-1.5" y="342.5" width="4" height="4" fill="#fff" stroke="#0000ff" stroke-width="1"/><rect x="1620.5" y="342.5" width="4" height="4" fill="#fff" stroke="#0000ff" stroke-width="1"/><rect x="-1.5" y="377.5" width="4" height="4" fill="#fff" stroke="#0000ff" stroke-width="1"/><rect x="1620.5" y="377.5" width="4" height="4" fill="#fff" stroke="#0000ff" stroke-width="1"/></g><g clip-path="url(#cmacd)"><rect x="5" y="661" width="1" height="27" fill="#c0c0c0"/><rect x="13" y="658" width="1" height="30" fill="#c0c0c0"/><rect x="21" y="664" width="1" height="24" fill="#c0c0c0"/><rect x="29" y="673" width="1" height="15" fill="#c0c0c0"/><rect x="37" y="677" width="1" height="11" fill="#c0c0c0"/><rect x="45" y="681" width="1" height="7" fill="#c0c0c0"/><rect x="53" y="687" width="1" height="3" fill="#c0c0c0"/><rect x="61" y="687" width="1" height="9" fill="#c0c0c0"/><rect x="69" y="687" width="1" height="21" fill="#c0c0c0"/><rect x="77" y="687" width="1" height="33" fill="#c0c0c0"/><rect x="85" y="687" width="1" height="43" fill="#c0c0c0"/><rect x="93" y="687" width="1" height="49" fill="#c0c0c0"/><rect x="101" y="687" width="1" height="56" fill="#c0c0c0"/><rect x="109" y="687" width="1" height="67" fill="#c0c0c0"/><rect x="117" y="687" width="1" height="70" fill="#c0c0c0"/><rect x="125" y="687" width="1" height="57" fill="#c0c0c0"/><rect x="133" y="687" width="1" height="48" fill="#c0c0c0"/><rect x="141" y="687" width="1" height="38" fill="#c0c0c0"/><rect x="149" y="687" width="1" height="26" fill="#c0c0c0"/><rect x="157" y="687" width="1" height="13" fill="#c0c0c0"/><rect x="165" y="686" width="1" height="2" fill="#c0c0c0"/><rect x="173" y="684" width="1" height="4" fill="#c0c0c0"/><rect x="181" y="687" width="1" height="1" fill="#c0c0c0"/><rect x="189" y="687" width="1" height="3" fill="#c0c0c0"/><rect x="197" y="687" width="1" height="12" fill="#c0c0c0"/><rect x="205" y="687" width="1" height="8" fill="#c0c0c0"/><rect x="213" y="687" width="1" height="7" fill="#c0c0c0"/><rect x="221" y="687" width="1" height="21" fill="#c0c0c0"/><rect x="229" y="687" width="1" height="27" fill="#c0c0c0"/><rect x="237" y="687" width="1" height="31" fill="#c0c0c0"/><rect x="245" y="687" width="1" height="32" fill="#c0c0c0"/><rect x="253" y="687" width="1" height="38" fill="#c0c0c0"/><rect x="261" y="687" width="1" height="42" fill="#c0c0c0"/><rect x="269" y="687" width="1" height="40" fill="#c0c0c0"/><rect x="277" y="687" width="1" height="40" fill="#c0c0c0"/><rect x="285" y="687" width="1" height="40" fill="#c0c0c0"/><rect x="293" y="687" width="1" height="40" fill="#c0c0c0"/><rect x="301" y="687" width="1" height="44" fill="#c0c0c0"/><rect x="309" y="687" width="1" height="42" fill="#c0c0c0"/><rect x="317" y="687" width="1" height="42" fill="#c0c0c0"/><rect x="325" y="687" width="1" height="44" fill="#c0c0c0"/><rect x="333" y="687" width="1" height="45" fill="#c0c0c0"/><rect x="341" y="687" width="1" height="46" fill="#c0c0c0"/><rect x="349" y="687" width="1" height="47" fill="#c0c0c0"/><rect x="357" y="687" width="1" height="48" fill="#c0c0c0"/><rect x="365" y="687" width="1" height="44" fill="#c0c0c0"/><rect x="373" y="687" width="1" height="42" fill="#c0c0c0"/><rect x="381" y="687" width="1" height="42" fill="#c0c0c0"/><rect x="389" y="687" width="1" height="52" fill="#c0c0c0"/><rect x="397" y="687" width="1" height="65" fill="#c0c0c0"/><rect x="405" y="687" width="1" height="64" fill="#c0c0c0"/><rect x="413" y="687" width="1" height="62" fill="#c0c0c0"/><rect x="421" y="687" width="1" height="64" fill="#c0c0c0"/><rect x="429" y="687" width="1" height="64" fill="#c0c0c0"/><rect x="437" y="687" width="1" height="62" fill="#c0c0c0"/><rect x="445" y="687" width="1" height="57" fill="#c0c0c0"/><rect x="453" y="687" width="1" height="54" fill="#c0c0c0"/><rect x="461" y="687" width="1" height="49" fill="#c0c0c0"/><rect x="469" y="687" width="1" height="46" fill="#c0c0c0"/><rect x="477" y="687" width="1" height="42" fill="#c0c0c0"/><rect x="485" y="687" width="1" height="36" fill="#c0c0c0"/><rect x="493" y="687" width="1" height="31" fill="#c0c0c0"/><rect x="501" y="687" width="1" height="30" fill="#c0c0c0"/><rect x="509" y="687" width="1" height="28" fill="#c0c0c0"/><rect x="517" y="687" width="1" height="24" fill="#c0c0c0"/><rect x="525" y="687" width="1" height="20" fill="#c0c0c0"/><rect x="533" y="687" width="1" height="13" fill="#c0c0c0"/><rect x="541" y="687" width="1" height="7" fill="#c0c0c0"/><rect x="549" y="687" width="1" height="18" fill="#c0c0c0"/><rect x="557" y="687" width="1" height="19" fill="#c0c0c0"/><rect x="565" y="687" width="1" height="12" fill="#c0c0c0"/><rect x="573" y="687" width="1" height="7" fill="#c0c0c0"/><rect x="589" y="685" width="1" height="3" fill="#c0c0c0"/><rect x="597" y="679" width="1" height="9" fill="#c0c0c0"/><rect x="605" y="677" width="1" height="11" fill="#c0c0c0"/><rect x="613" y="670" width="1" height="18" fill="#c0c0c0"/><rect x="621" y="664" width="1" height="24" fill="#c0c0c0"/><rect x="629" y="658" width="1" height="30" fill="#c0c0c0"/><rect x="637" y="654" width="1" height="34" fill="#c0c0c0"/><rect x="645" y="650" width="1" height="38" fill="#c0c0c0"/><rect x="653" y="641" width="1" height="47" fill="#c0c0c0"/><rect x="661" y="642" width="1" height="46" fill="#c0c0c0"/><rect x="669" y="644" width="1" height="44" fill="#c0c0c0"/><rect x="677" y="644" width="1" height="44" fill="#c0c0c0"/><rect x="685" y="640" width="1" height="48" fill="#c0c0c0"/><rect x="693" y="630" width="1" height="58" fill="#c0c0c0"/><rect x="701" y="619" width="1" height="69" fill="#c0c0c0"/><rect x="709" y="607" width="1" height="81" fill="#c0c0c0"/><rect x="717" y="597" width="1" height="91" fill="#c0c0c0"/><rect x="725" y="594" width="1" height="94" fill="#c0c0c0"/><rect x="733" y="598" width="1" height="90" fill="#c0c0c0"/><rect x="741" y="599" width="1" height="89" fill="#c0c0c0"/><rect x="749" y="602" width="1" height="86" fill="#c0c0c0"/><rect x="757" y="607" width="1" height="81" fill="#c0c0c0"/><rect x="765" y="612" width="1" height="76" fill="#c0c0c0"/><rect x="773" y="620" width="1" height="68" fill="#c0c0c0"/><rect x="781" y="632" width="1" height="56" fill="#c0c0c0"/><rect x="789" y="644" width="1" height="44" fill="#c0c0c0"/><rect x="797" y="652" width="1" height="36" fill="#c0c0c0"/><rect x="805" y="661" width="1" height="27" fill="#c0c0c0"/><rect x="813" y="667" width="1" height="21" fill="#c0c0c0"/><rect x="821" y="677" width="1" height="11" fill="#c0c0c0"/><rect x="829" y="683" width="1" height="5" fill="#c0c0c0"/><rect x="837" y="687" width="1" height="4" fill="#c0c0c0"/><rect x="845" y="687" width="1" height="12" fill="#c0c0c0"/><rect x="853" y="687" width="1" height="14" fill="#c0c0c0"/><rect x="861" y="687" width="1" height="14" fill="#c0c0c0"/><rect x="869" y="687" width="1" height="12" fill="#c0c0c0"/><rect x="877" y="687" width="1" height="1" fill="#c0c0c0"/><rect x="885" y="682" width="1" height="6" fill="#c0c0c0"/><rect x="893" y="677" width="1" height="11" fill="#c0c0c0"/><rect x="901" y="672" width="1" height="16" fill="#c0c0c0"/><rect x="909" y="667" width="1" height="21" fill="#c0c0c0"/><rect x="917" y="660" width="1" height="28" fill="#c0c0c0"/><rect x="925" y="646" width="1" height="42" fill="#c0c0c0"/><rect x="933" y="631" width="1" height="57" fill="#c0c0c0"/><rect x="941" y="624" width="1" height="64" fill="#c0c0c0"/><rect x="949" y="624" width="1" height="64" fill="#c0c0c0"/><rect x="957" y="622" width="1" height="66" fill="#c0c0c0"/><rect x="965" y="625" width="1" height="63" fill="#c0c0c0"/><rect x="973" y="629" width="1" height="59" fill="#c0c0c0"/><rect x="981" y="632" width="1" height="56" fill="#c0c0c0"/><rect x="989" y="640" width="1" height="48" fill="#c0c0c0"/><rect x="997" y="653" width="1" height="35" fill="#c0c0c0"/><rect x="1005" y="665" width="1" height="23" fill="#c0c0c0"/><rect x="1013" y="657" width="1" height="31" fill="#c0c0c0"/><rect x="1021" y="664" width="1" height="24" fill="#c0c0c0"/><rect x="1029" y="654" width="1" height="34" fill="#c0c0c0"/><rect x="1037" y="649" width="1" height="39" fill="#c0c0c0"/><rect x="1045" y="644" width="1" height="44" fill="#c0c0c0"/><rect x="1053" y="639" width="1" height="49" fill="#c0c0c0"/><rect x="1061" y="638" width="1" height="50" fill="#c0c0c0"/><rect x="1069" y="638" width="1" height="50" fill="#c0c0c0"/><rect x="1077" y="643" width="1" height="45" fill="#c0c0c0"/><rect x="1085" y="652" width="1" height="36" fill="#c0c0c0"/><rect x="1093" y="654" width="1" height="34" fill="#c0c0c0"/><rect x="1101" y="656" width="1" height="32" fill="#c0c0c0"/><rect x="1109" y="658" width="1" height="30" fill="#c0c0c0"/><rect x="1117" y="660" width="1" height="28" fill="#c0c0c0"/><rect x="1125" y="666" width="1" height="22" fill="#c0c0c0"/><rect x="1133" y="677" width="1" height="11" fill="#c0c0c0"/><rect x="1141" y="687" width="1" height="1" fill="#c0c0c0"/><rect x="1149" y="687" width="1" height="10" fill="#c0c0c0"/><rect x="1157" y="687" width="1" height="13" fill="#c0c0c0"/><rect x="1165" y="687" width="1" height="12" fill="#c0c0c0"/><rect x="1173" y="687" width="1" height="7" fill="#c0c0c0"/><rect x="1181" y="687" width="1" height="10" fill="#c0c0c0"/><rect x="1189" y="687" width="1" height="16" fill="#c0c0c0"/><rect x="1197" y="687" width="1" height="19" fill="#c0c0c0"/><rect x="1205" y="687" width="1" height="20" fill="#c0c0c0"/><rect x="1213" y="687" width="1" height="21" fill="#c0c0c0"/><rect x="1221" y="687" width="1" height="19" fill="#c0c0c0"/><rect x="1229" y="687" width="1" height="20" fill="#c0c0c0"/><rect x="1237" y="687" width="1" height="18" fill="#c0c0c0"/><rect x="1245" y="687" width="1" height="17" fill="#c0c0c0"/><rect x="1253" y="687" width="1" height="15" fill="#c0c0c0"/><rect x="1261" y="687" width="1" height="16" fill="#c0c0c0"/><rect x="1269" y="687" width="1" height="18" fill="#c0c0c0"/><rect x="1277" y="687" width="1" height="22" fill="#c0c0c0"/><rect x="1285" y="687" width="1" height="25" fill="#c0c0c0"/><rect x="1293" y="687" width="1" height="28" fill="#c0c0c0"/><rect x="1301" y="687" width="1" height="33" fill="#c0c0c0"/><rect x="1309" y="687" width="1" height="38" fill="#c0c0c0"/><rect x="1317" y="687" width="1" height="43" fill="#c0c0c0"/><rect x="1325" y="687" width="1" height="44" fill="#c0c0c0"/><rect x="1333" y="687" width="1" height="44" fill="#c0c0c0"/><rect x="1341" y="687" width="1" height="43" fill="#c0c0c0"/><rect x="1349" y="687" width="1" height="35" fill="#c0c0c0"/><rect x="1357" y="687" width="1" height="27" fill="#c0c0c0"/><rect x="1365" y="687" width="1" height="22" fill="#c0c0c0"/><rect x="1373" y="687" width="1" height="9" fill="#c0c0c0"/><rect x="1389" y="684" width="1" height="4" fill="#c0c0c0"/><rect x="1397" y="683" width="1" height="5" fill="#c0c0c0"/><rect x="1405" y="687" width="1" height="1" fill="#c0c0c0"/><rect x="1413" y="687" width="1" height="1" fill="#c0c0c0"/><rect x="1421" y="687" width="1" height="3" fill="#c0c0c0"/><rect x="1429" y="687" width="1" height="4" fill="#c0c0c0"/><rect x="1437" y="687" width="1" height="9" fill="#c0c0c0"/><rect x="1445" y="687" width="1" height="16" fill="#c0c0c0"/><path d="M3.50,667.50 L10.50,664.25 L20.50,662.50 L30.50,662.25 L45.50,663.75 L54.25,668.00 L65.50,675.50 L78.00,685.50 L93.00,700.50 L108.00,715.50 L118.00,726.75 L128.00,733.75 L140.50,738.00 L150.50,736.75 L163.00,731.75 L175.50,720.50 L188.00,709.25 L198.00,702.50 L208.00,696.75 L218.00,694.25 L225.50,694.50 L238.00,698.50 L250.50,704.75 L263.00,711.75 L275.50,717.50 L288.00,723.00 L300.50,726.00 L315.50,728.00 L330.50,729.50 L350.50,730.50 L363.00,732.50 L373.00,731.50 L385.50,731.75 L395.50,734.75 L405.50,737.50 L418.50,740.50 L428.50,742.25 L438.50,745.00 L453.50,747.25 L466.00,746.75 L478.50,742.25 L491.00,738.00 L503.50,731.75 L516.00,726.00 L528.50,719.25 L543.50,712.50 L558.50,708.00 L573.50,704.25 L588.50,697.50 L603.50,693.00 L616.00,688.00 L628.50,679.25 L643.50,670.50 L656.00,661.75 L668.50,655.50 L681.00,650.00 L693.50,644.25 L703.50,639.25 L713.50,631.75 L723.50,624.25 L736.00,617.25 L748.50,609.25 L758.50,605.50 L768.50,603.50 L778.50,605.00 L788.50,610.50 L801.00,621.00 L813.50,631.75 L826.00,645.00 L836.50,657.25 L846.50,668.00 L856.50,676.75 L866.50,684.25 L876.50,689.25 L886.50,691.25 L899.00,690.50 L909.00,688.00 L919.00,680.50 L929.00,673.00 L939.00,663.00 L949.00,654.25 L959.00,645.50 L969.00,638.50 L979.00,633.00 L989.00,629.75 L999.00,630.50 L1009.00,635.50 L1019.00,641.00 L1031.50,646.25 L1044.00,649.25 L1054.00,651.25 L1064.00,650.00 L1076.50,647.25 L1089.00,646.00 L1101.50,645.50 L1111.50,646.25 L1124.00,650.50 L1136.50,656.75 L1149.00,666.25 L1161.50,674.25 L1174.00,683.00 L1186.50,690.00 L1199.00,697.50 L1211.50,700.50 L1220.50,702.50 L1235.50,704.25 L1248.00,705.50 L1265.50,705.50 L1280.50,705.50 L1290.50,706.75 L1300.50,707.50 L1310.50,711.75 L1320.50,713.50 L1330.50,719.25 L1340.50,723.00 L1350.50,724.25 L1360.50,724.25 L1370.50,722.50 L1380.50,718.00 L1390.50,711.75 L1400.50,704.75 L1410.50,698.75 L1420.50,693.75 L1430.50,690.00 L1438.00,689.25 L1444.25,689.25" fill="none" stroke="#ff0000" stroke-width="1" stroke-dasharray="3,3"/></g><g clip-path="url(#crsi)"><path d="M0,801.5 H1625" stroke="#c0c0c0" stroke-width="1" stroke-dasharray="3,3" fill="none"/><path d="M0,848.5 H1625" stroke="#c0c0c0" stroke-width="1" stroke-dasharray="3,3" fill="none"/><path d="M0,904.5 H1625" stroke="#c0c0c0" stroke-width="1" stroke-dasharray="3,3" fill="none"/><path d="M0.50,845.50 L5.50,841.75 L13.50,838.25 L21.50,848.50 L29.50,857.25 L37.50,852.50 L45.50,852.50 L53.50,862.25 L61.50,860.25 L69.50,869.25 L77.50,874.25 L85.50,872.25 L93.50,872.25 L101.50,875.50 L109.50,882.25 L117.50,871.00 L125.50,845.25 L133.50,849.25 L141.50,845.00 L149.50,840.50 L157.50,835.50 L165.50,834.25 L173.50,840.50 L181.50,851.00 L189.50,854.50 L197.50,862.25 L205.50,846.25 L213.50,849.25 L221.50,865.25 L229.50,859.50 L237.50,859.25 L245.50,857.00 L253.50,862.00 L261.50,863.50 L269.50,852.50 L277.50,858.25 L285.50,858.25 L293.50,858.25 L301.50,864.25 L309.50,855.25 L317.50,858.25 L325.50,862.25 L333.50,861.25 L341.50,863.00 L349.50,864.25 L357.50,863.25 L365.50,855.25 L373.50,858.25 L381.50,862.00 L389.50,876.25 L397.50,881.25 L405.50,862.50 L413.50,859.25 L421.50,866.25 L429.50,865.00 L437.50,860.50 L445.50,856.25 L453.50,859.25 L461.50,854.50 L469.50,857.25 L477.50,855.25 L485.50,850.25 L493.50,850.50 L501.50,855.25 L509.50,856.50 L517.50,848.25 L525.50,849.50 L533.50,841.00 L541.50,839.50 L549.50,869.25 L557.50,853.50 L565.50,843.25 L573.50,844.50 L581.50,839.50 L589.50,844.25 L597.50,838.50 L605.50,844.25 L613.50,835.50 L621.50,835.25 L629.50,833.25 L637.50,833.25 L645.50,831.25 L653.50,823.25 L661.50,838.25 L669.50,841.25 L677.50,837.25 L685.50,831.25 L693.50,821.25 L701.50,819.25 L709.50,814.50 L717.50,813.25 L725.50,820.25 L733.50,832.25 L741.50,829.25 L749.50,830.50 L757.50,833.50 L765.50,834.75 L773.50,841.25 L781.50,850.25 L789.50,853.50 L797.50,851.50 L805.50,853.25 L813.50,853.50 L821.50,862.25 L829.50,858.25 L837.50,862.25 L845.50,869.25 L853.50,854.25 L861.50,852.25 L869.50,849.25 L877.50,833.25 L885.50,835.25 L893.50,836.25 L901.50,834.25 L909.50,833.25 L917.50,826.25 L925.50,815.25 L933.50,811.25 L941.50,820.50 L949.50,831.25 L957.50,827.25 L965.50,836.25 L973.50,839.50 L981.50,836.25 L989.50,848.25 L997.50,856.25 L1005.50,859.50 L1013.50,834.25 L1021.50,850.50 L1029.50,835.25 L1037.50,837.25 L1045.50,836.00 L1053.50,835.25 L1061.50,838.25 L1069.50,838.50 L1077.50,844.25 L1085.50,851.25 L1093.50,844.25 L1101.50,844.25 L1109.50,844.25 L1117.50,844.25 L1125.50,850.50 L1133.50,860.25 L1141.50,864.25 L1149.50,862.25 L1157.50,856.25 L1165.50,849.25 L1173.50,844.25 L1181.50,855.25 L1189.50,859.50 L1197.50,858.50 L1205.50,855.50 L1213.50,856.25 L1221.50,850.25 L1229.50,855.50 L1237.50,852.50 L1245.50,851.25 L1253.50,849.25 L1261.50,856.25 L1269.50,857.50 L1277.50,864.25 L1285.50,862.25 L1293.50,864.25 L1301.50,869.25 L1309.50,873.25 L1317.50,874.50 L1325.50,867.25 L1333.50,868.50 L1341.50,865.25 L1349.50,845.25 L1357.50,843.25 L1365.50,847.25 L1373.50,829.25 L1381.50,831.25 L1389.50,840.25 L1397.50,845.25 L1405.50,854.25 L1413.50,854.25 L1421.50,854.25 L1429.50,854.25 L1437.50,861.25 L1445.50,867.50" fill="none" stroke="#1e90ff" stroke-width="1"/></g><rect x="0" y="28" width="1626" height="1" fill="#000"/><rect x="0" y="581" width="1626" height="1" fill="#000"/><rect x="0" y="583" width="1626" height="1" fill="#000"/><rect x="0" y="766" width="1626" height="1" fill="#000"/><rect x="0" y="768" width="1626" height="1" fill="#000"/><rect x="0" y="928" width="1626" height="1" fill="#000"/><rect x="1625" y="28" width="1" height="901" fill="#000"/><rect x="1625" y="582" width="1" height="1" fill="#fff"/><rect x="1625" y="767" width="1" height="1" fill="#fff"/><rect x="1671" y="26" width="1" height="925" fill="#e6e6e6"/><rect x="0" y="949" width="1672" height="1" fill="#f2f2f2"/><rect x="0" y="950" width="1672" height="1" fill="#e0e0e0"/><rect x="1456" y="29" width="9" height="1" fill="#c0c0c0"/><rect x="1457" y="30" width="7" height="1" fill="#c0c0c0"/><rect x="1458" y="31" width="5" height="1" fill="#c0c0c0"/><rect x="1459" y="32" width="3" height="1" fill="#c0c0c0"/><rect x="1460" y="33" width="1" height="1" fill="#c0c0c0"/><rect x="1626" y="50" width="2" height="1" fill="#000"/><text transform="translate(1631.3,54) scale(0.893,1)" font-family="Liberation Sans, sans-serif" font-size="10.2" fill="#000" style="shape-rendering:auto">1.33885</text><rect x="1626" y="83" width="2" height="1" fill="#000"/><text transform="translate(1631.3,87) scale(0.893,1)" font-family="Liberation Sans, sans-serif" font-size="10.2" fill="#000" style="shape-rendering:auto">1.33300</text><rect x="1626" y="116" width="2" height="1" fill="#000"/><text transform="translate(1631.3,120) scale(0.893,1)" font-family="Liberation Sans, sans-serif" font-size="10.2" fill="#000" style="shape-rendering:auto">1.32700</text><rect x="1626" y="149" width="2" height="1" fill="#000"/><text transform="translate(1631.3,153) scale(0.893,1)" font-family="Liberation Sans, sans-serif" font-size="10.2" fill="#000" style="shape-rendering:auto">1.32115</text><rect x="1626" y="182" width="2" height="1" fill="#000"/><text transform="translate(1631.3,186) scale(0.893,1)" font-family="Liberation Sans, sans-serif" font-size="10.2" fill="#000" style="shape-rendering:auto">1.31515</text><rect x="1626" y="215" width="2" height="1" fill="#000"/><text transform="translate(1631.3,219) scale(0.893,1)" font-family="Liberation Sans, sans-serif" font-size="10.2" fill="#000" style="shape-rendering:auto">1.30930</text><rect x="1626" y="248" width="2" height="1" fill="#000"/><text transform="translate(1631.3,252) scale(0.893,1)" font-family="Liberation Sans, sans-serif" font-size="10.2" fill="#000" style="shape-rendering:auto">1.30330</text><rect x="1626" y="281" width="2" height="1" fill="#000"/><text transform="translate(1631.3,285) scale(0.893,1)" font-family="Liberation Sans, sans-serif" font-size="10.2" fill="#000" style="shape-rendering:auto">1.29745</text><rect x="1626" y="314" width="2" height="1" fill="#000"/><text transform="translate(1631.3,318) scale(0.893,1)" font-family="Liberation Sans, sans-serif" font-size="10.2" fill="#000" style="shape-rendering:auto">1.29160</text><rect x="1626" y="347" width="2" height="1" fill="#000"/><text transform="translate(1631.3,351) scale(0.893,1)" font-family="Liberation Sans, sans-serif" font-size="10.2" fill="#000" style="shape-rendering:auto">1.28560</text><rect x="1626" y="380" width="2" height="1" fill="#000"/><text transform="translate(1631.3,384) scale(0.893,1)" font-family="Liberation Sans, sans-serif" font-size="10.2" fill="#000" style="shape-rendering:auto">1.27975</text><rect x="1626" y="413" width="2" height="1" fill="#000"/><text transform="translate(1631.3,417) scale(0.893,1)" font-family="Liberation Sans, sans-serif" font-size="10.2" fill="#000" style="shape-rendering:auto">1.27375</text><rect x="1626" y="446" width="2" height="1" fill="#000"/><text transform="translate(1631.3,450) scale(0.893,1)" font-family="Liberation Sans, sans-serif" font-size="10.2" fill="#000" style="shape-rendering:auto">1.26775</text><rect x="1626" y="479" width="2" height="1" fill="#000"/><text transform="translate(1631.3,483) scale(0.893,1)" font-family="Liberation Sans, sans-serif" font-size="10.2" fill="#000" style="shape-rendering:auto">1.26175</text><rect x="1626" y="512" width="2" height="1" fill="#000"/><text transform="translate(1631.3,516) scale(0.893,1)" font-family="Liberation Sans, sans-serif" font-size="10.2" fill="#000" style="shape-rendering:auto">1.25590</text><rect x="1626" y="545" width="2" height="1" fill="#000"/><text transform="translate(1631.3,549) scale(0.893,1)" font-family="Liberation Sans, sans-serif" font-size="10.2" fill="#000" style="shape-rendering:auto">1.24990</text><rect x="1626" y="578" width="2" height="1" fill="#000"/><text transform="translate(1631.3,582) scale(0.893,1)" font-family="Liberation Sans, sans-serif" font-size="10.2" fill="#000" style="shape-rendering:auto">1.24405</text><rect x="1627" y="231" width="41" height="11" fill="#ff0000"/><text transform="translate(1631.3,241) scale(0.893,1)" font-family="Liberation Sans, sans-serif" font-size="10.2" fill="#fff" style="shape-rendering:auto">1.30530</text><rect x="1627" y="257" width="41" height="11" fill="#ff0000"/><text transform="translate(1631.3,267) scale(0.893,1)" font-family="Liberation Sans, sans-serif" font-size="10.2" fill="#fff" style="shape-rendering:auto">1.30063</text><rect x="1627" y="283" width="41" height="11" fill="#32cd32"/><text transform="translate(1631.3,293) scale(0.893,1)" font-family="Liberation Sans, sans-serif" font-size="10.2" fill="#fff" style="shape-rendering:auto">1.29597</text><rect x="1627" y="312" width="41" height="11" fill="#000"/><text transform="translate(1631.3,322) scale(0.893,1)" font-family="Liberation Sans, sans-serif" font-size="10.2" fill="#fff" style="shape-rendering:auto">1.29092</text><rect x="1627" y="338" width="41" height="11" fill="#0000ff"/><text transform="translate(1631.3,348) scale(0.893,1)" font-family="Liberation Sans, sans-serif" font-size="10.2" fill="#fff" style="shape-rendering:auto">1.28611</text><rect x="1627" y="373" width="41" height="11" fill="#0000ff"/><text transform="translate(1631.3,383) scale(0.893,1)" font-family="Liberation Sans, sans-serif" font-size="10.2" fill="#fff" style="shape-rendering:auto">1.27983</text><text transform="translate(1629,595) scale(0.893,1)" font-family="Liberation Sans, sans-serif" font-size="10.2" fill="#000" style="shape-rendering:auto">0.012312</text><rect x="1626" y="584" width="2" height="1" fill="#000"/><text transform="translate(1629,692) scale(0.893,1)" font-family="Liberation Sans, sans-serif" font-size="10.2" fill="#000" style="shape-rendering:auto">0.00</text><rect x="1626" y="687" width="3" height="1" fill="#000"/><text transform="translate(1629,764) scale(0.893,1)" font-family="Liberation Sans, sans-serif" font-size="10.2" fill="#000" style="shape-rendering:auto">-0.009328</text><rect x="1626" y="765" width="2" height="1" fill="#000"/><text transform="translate(1629,780) scale(0.893,1)" font-family="Liberation Sans, sans-serif" font-size="10.2" fill="#000" style="shape-rendering:auto">100</text><text transform="translate(1629,806) scale(0.893,1)" font-family="Liberation Sans, sans-serif" font-size="10.2" fill="#000" style="shape-rendering:auto">80</text><text transform="translate(1629,853) scale(0.893,1)" font-family="Liberation Sans, sans-serif" font-size="10.2" fill="#000" style="shape-rendering:auto">50</text><text transform="translate(1629,909) scale(0.893,1)" font-family="Liberation Sans, sans-serif" font-size="10.2" fill="#000" style="shape-rendering:auto">15</text><text transform="translate(1629,926) scale(0.893,1)" font-family="Liberation Sans, sans-serif" font-size="10.2" fill="#000" style="shape-rendering:auto">0</text><rect x="1626" y="927" width="2" height="1" fill="#000"/><text transform="translate(1.3,596) scale(0.917,1)" font-family="Liberation Sans, sans-serif" font-size="10.2" fill="#000" style="shape-rendering:auto">MACD(12,26,9)</text><text transform="translate(69.6,596) scale(0.9,1)" font-family="Liberation Sans, sans-serif" font-size="10.2" fill="#000" style="shape-rendering:auto">-0.001819</text><text transform="translate(114,596) scale(0.9,1)" font-family="Liberation Sans, sans-serif" font-size="10.2" fill="#000" style="shape-rendering:auto">-0.000265</text><text transform="translate(1.3,781) scale(0.92,1)" font-family="Liberation Sans, sans-serif" font-size="10.2" fill="#000" style="shape-rendering:auto">RSI(14)</text><text transform="translate(36,781) scale(0.895,1)" font-family="Liberation Sans, sans-serif" font-size="10.2" fill="#000" style="shape-rendering:auto">37.6672</text><path d="M0,39 L7,39 L3.5,35 Z" fill="#000" style="shape-rendering:auto"/><text transform="translate(12,40) scale(0.924,1)" font-family="Liberation Sans, sans-serif" font-size="10.2" fill="#000" style="shape-rendering:auto">GBPUSD-,Daily</text><text transform="translate(85.3,40) scale(0.902,1)" font-family="Liberation Sans, sans-serif" font-size="10.2" fill="#000" style="shape-rendering:auto">1.29623 1.29690 1.29025 1.29092</text><rect x="-3" y="929" width="1" height="3" fill="#000"/><text transform="translate(-4,941) scale(0.92,1)" font-family="Liberation Sans, sans-serif" font-size="10.2" fill="#000" style="shape-rendering:auto">14 Oct 2018</text><rect x="61" y="929" width="1" height="3" fill="#000"/><text transform="translate(60,941) scale(0.92,1)" font-family="Liberation Sans, sans-serif" font-size="10.2" fill="#000" style="shape-rendering:auto">23 Oct 2018</text><rect x="125" y="929" width="1" height="3" fill="#000"/><text transform="translate(124,941) scale(0.92,1)" font-family="Liberation Sans, sans-serif" font-size="10.2" fill="#000" style="shape-rendering:auto">1 Nov 2018</text><rect x="189" y="929" width="1" height="3" fill="#000"/><text transform="translate(188,941) scale(0.92,1)" font-family="Liberation Sans, sans-serif" font-size="10.2" fill="#000" style="shape-rendering:auto">11 Nov 2018</text><rect x="253" y="929" width="1" height="3" fill="#000"/><text transform="translate(252,941) scale(0.92,1)" font-family="Liberation Sans, sans-serif" font-size="10.2" fill="#000" style="shape-rendering:auto">20 Nov 2018</text><rect x="317" y="929" width="1" height="3" fill="#000"/><text transform="translate(316,941) scale(0.92,1)" font-family="Liberation Sans, sans-serif" font-size="10.2" fill="#000" style="shape-rendering:auto">29 Nov 2018</text><rect x="381" y="929" width="1" height="3" fill="#000"/><text transform="translate(380,941) scale(0.92,1)" font-family="Liberation Sans, sans-serif" font-size="10.2" fill="#000" style="shape-rendering:auto">9 Dec 2018</text><rect x="445" y="929" width="1" height="3" fill="#000"/><text transform="translate(444,941) scale(0.92,1)" font-family="Liberation Sans, sans-serif" font-size="10.2" fill="#000" style="shape-rendering:auto">18 Dec 2018</text><rect x="509" y="929" width="1" height="3" fill="#000"/><text transform="translate(508,941) scale(0.92,1)" font-family="Liberation Sans, sans-serif" font-size="10.2" fill="#000" style="shape-rendering:auto">27 Dec 2018</text><rect x="573" y="929" width="1" height="3" fill="#000"/><text transform="translate(572,941) scale(0.92,1)" font-family="Liberation Sans, sans-serif" font-size="10.2" fill="#000" style="shape-rendering:auto">6 Jan 2019</text><rect x="637" y="929" width="1" height="3" fill="#000"/><text transform="translate(636,941) scale(0.92,1)" font-family="Liberation Sans, sans-serif" font-size="10.2" fill="#000" style="shape-rendering:auto">15 Jan 2019</text><rect x="701" y="929" width="1" height="3" fill="#000"/><text transform="translate(700,941) scale(0.92,1)" font-family="Liberation Sans, sans-serif" font-size="10.2" fill="#000" style="shape-rendering:auto">24 Jan 2019</text><rect x="765" y="929" width="1" height="3" fill="#000"/><text transform="translate(764,941) scale(0.92,1)" font-family="Liberation Sans, sans-serif" font-size="10.2" fill="#000" style="shape-rendering:auto">3 Feb 2019</text><rect x="829" y="929" width="1" height="3" fill="#000"/><text transform="translate(828,941) scale(0.92,1)" font-family="Liberation Sans, sans-serif" font-size="10.2" fill="#000" style="shape-rendering:auto">12 Feb 2019</text><rect x="893" y="929" width="1" height="3" fill="#000"/><text transform="translate(892,941) scale(0.92,1)" font-family="Liberation Sans, sans-serif" font-size="10.2" fill="#000" style="shape-rendering:auto">21 Feb 2019</text><rect x="957" y="929" width="1" height="3" fill="#000"/><text transform="translate(956,941) scale(0.92,1)" font-family="Liberation Sans, sans-serif" font-size="10.2" fill="#000" style="shape-rendering:auto">3 Mar 2019</text><rect x="1021" y="929" width="1" height="3" fill="#000"/><text transform="translate(1020,941) scale(0.92,1)" font-family="Liberation Sans, sans-serif" font-size="10.2" fill="#000" style="shape-rendering:auto">12 Mar 2019</text><rect x="1085" y="929" width="1" height="3" fill="#000"/><text transform="translate(1084,941) scale(0.92,1)" font-family="Liberation Sans, sans-serif" font-size="10.2" fill="#000" style="shape-rendering:auto">21 Mar 2019</text><rect x="1149" y="929" width="1" height="3" fill="#000"/><text transform="translate(1148,941) scale(0.92,1)" font-family="Liberation Sans, sans-serif" font-size="10.2" fill="#000" style="shape-rendering:auto">31 Mar 2019</text><rect x="1213" y="929" width="1" height="3" fill="#000"/><text transform="translate(1212,941) scale(0.92,1)" font-family="Liberation Sans, sans-serif" font-size="10.2" fill="#000" style="shape-rendering:auto">9 Apr 2019</text><rect x="1277" y="929" width="1" height="3" fill="#000"/><text transform="translate(1276,941) scale(0.92,1)" font-family="Liberation Sans, sans-serif" font-size="10.2" fill="#000" style="shape-rendering:auto">18 Apr 2019</text><rect x="1341" y="929" width="1" height="3" fill="#000"/><text transform="translate(1340,941) scale(0.92,1)" font-family="Liberation Sans, sans-serif" font-size="10.2" fill="#000" style="shape-rendering:auto">29 Apr 2019</text><rect x="1405" y="929" width="1" height="3" fill="#000"/><text transform="translate(1404,941) scale(0.92,1)" font-family="Liberation Sans, sans-serif" font-size="10.2" fill="#000" style="shape-rendering:auto">8 May 2019</text><g style="shape-rendering:auto"><rect x="109" y="48" width="2" height="64" fill="#fff"/><rect x="0" y="72" width="109" height="40" fill="url(#gp)"/><rect x="111" y="72" width="108" height="40" fill="url(#gp)"/><rect x="0" y="48" width="52" height="25" fill="url(#gp)"/><rect x="167" y="48" width="52" height="25" fill="url(#gp)"/><rect x="0" y="48" width="52" height="1" fill="#2020c0"/><rect x="167" y="48" width="52" height="1" fill="#2020c0"/><rect x="0" y="48" width="1" height="64" fill="#1414a8"/><rect x="218" y="48" width="1" height="64" fill="#1414a8"/><rect x="4" y="71" width="45" height="1" fill="#1a1aa8"/><rect x="4" y="72" width="45" height="1" fill="#7a7af4"/><rect x="171" y="71" width="45" height="1" fill="#1a1aa8"/><rect x="171" y="72" width="45" height="1" fill="#7a7af4"/><rect x="54.5" y="48.5" width="110" height="21" fill="#fff" stroke="#a9a9a9" stroke-width="1"/><rect x="55" y="49" width="20" height="20" fill="url(#gsp)"/><rect x="75" y="49" width="1" height="20" fill="#b4b4b4"/><rect x="144" y="49" width="20" height="20" fill="url(#gsp)"/><rect x="143" y="49" width="1" height="20" fill="#b4b4b4"/><path d="M62,57 L68,57 L65,60 Z" fill="#000"/><path d="M150,60 L156,60 L153,57 Z" fill="#000"/><text x="140" y="63.5" text-anchor="end" font-family="Liberation Sans, sans-serif" font-size="12.5" fill="#000">1.00</text><text x="12.4" y="64" textLength="25.6" lengthAdjust="spacingAndGlyphs" font-family="Liberation Sans, sans-serif" font-size="12.3" fill="#fff">SELL</text><text x="180.4" y="64" textLength="23" lengthAdjust="spacingAndGlyphs" font-family="Liberation Sans, sans-serif" font-size="12.3" fill="#fff">BUY</text><text transform="translate(20.3,103) scale(0.97,1)" font-family="Liberation Sans, sans-serif" font-size="12.6" font-weight="bold" fill="#fff">1.29</text><text transform="translate(46.8,103) scale(0.95,1)" font-family="Liberation Sans, sans-serif" font-size="33.6" fill="#fff">09</text><text transform="translate(87.5,86) scale(1,1)" font-family="Liberation Sans, sans-serif" font-size="12.6" font-weight="bold" fill="#fff">2</text><text transform="translate(130.3,103) scale(0.97,1)" font-family="Liberation Sans, sans-serif" font-size="12.6" font-weight="bold" fill="#fff">1.29</text><text transform="translate(158.6,103) scale(0.95,1)" font-family="Liberation Sans, sans-serif" font-size="33.6" fill="#fff">12</text><text transform="translate(197.5,86) scale(1,1)" font-family="Liberation Sans, sans-serif" font-size="12.6" font-weight="bold" fill="#fff">0</text></g></svg>
<div id="tb"><svg width="1672" height="26" viewBox="0 0 1672 26" style="position:absolute;left:0;top:0"><defs><pattern id="chk" width="2" height="2" patternUnits="userSpaceOnUse"><rect width="2" height="2" fill="#fff"/><rect width="1" height="1" fill="#f0f0f0"/><rect x="1" y="1" width="1" height="1" fill="#f0f0f0"/></pattern><linearGradient id="gplus" x1="0" y1="0" x2="1" y2="1"><stop offset="0" stop-color="#5dff6d"/><stop offset="0.5" stop-color="#00e020"/><stop offset="1" stop-color="#00a000"/></linearGradient><linearGradient id="gold" x1="0" y1="0" x2="1" y2="1"><stop offset="0" stop-color="#c89010"/><stop offset="0.45" stop-color="#ffe060"/><stop offset="1" stop-color="#c08000"/></linearGradient><linearGradient id="gblue" x1="0" y1="0" x2="1" y2="0"><stop offset="0" stop-color="#1e90ff"/><stop offset="1" stop-color="#00a8f0"/></linearGradient><linearGradient id="gcloud" x1="0" y1="0" x2="0" y2="1"><stop offset="0" stop-color="#ffffff"/><stop offset="1" stop-color="#b8c8e8"/></linearGradient><linearGradient id="gclk" x1="0" y1="0" x2="1" y2="1"><stop offset="0" stop-color="#58a8ff"/><stop offset="0.5" stop-color="#1470e0"/><stop offset="1" stop-color="#0848a8"/></linearGradient><radialGradient id="glens" cx="0.4" cy="0.35" r="0.7"><stop offset="0" stop-color="#ffffff"/><stop offset="1" stop-color="#bfe4fb"/></radialGradient><linearGradient id="ggreen" x1="0" y1="0" x2="1" y2="0"><stop offset="0" stop-color="#40d050"/><stop offset="0.5" stop-color="#90ff90"/><stop offset="1" stop-color="#20c030"/></linearGradient></defs><rect width="1672" height="26" fill="#f0f0f0"/><rect y="24" width="1672" height="1" fill="#a8a8a8"/><rect y="25" width="1672" height="1" fill="#6a6a6a"/><path d="M0,4.5 H5 L7.5,7 V13 H0 Z" fill="#fff" stroke="#808080" stroke-width="1"/><path d="M5,4.5 V7 H7.5" fill="none" stroke="#808080" stroke-width="0.8"/><rect x="0" y="8" width="3" height="1" fill="#909090"/><rect x="0" y="11" width="3" height="1" fill="#909090"/><path d="M4.5,10.5 h3.5 v4 h4 v3.5 h-4 v4 h-3.5 v-4 h-5 v-3.5 h5 Z" fill="url(#gplus)" stroke="#008a10" stroke-width="1"/><text x="15" y="14.5" font-family="Liberation Sans, Noto Sans CJK SC, sans-serif" font-size="12" fill="#000">新订单</text><path d="M68.3,5.2 L79,12 L78.8,14 L70.3,19.7 L63.2,14.2 L66.3,10.5 Z" fill="#b87400"/><path d="M68.5,5.6 L78.3,11.9 L70.3,17.2 L63.9,13.2 L66.9,10.3 Z" fill="url(#gold)"/><path d="M64.2,14.4 L70.3,18.4 L78.3,13.2" fill="none" stroke="#f0d890" stroke-width="0.7"/><path d="M93.5,5 L97,4 L104,5 V14 H93.5 Z" fill="url(#gblue)"/><path d="M96.5,6.5 L96.5,14 M93.5,5 L96.5,6.5 L104,6" stroke="#d8f0ff" stroke-width="0.8" fill="none"/><rect x="98.5" y="8.5" width="4" height="1.3" fill="#e8f6ff"/><path d="M94,19.3 C90.5,19.3 90.5,15 94,15 C94.5,12.3 98.5,12 100,14 C102,12.6 105,13.5 104.8,15.5 C107.6,15.6 107.6,19.3 104.5,19.3 Z" fill="url(#gcloud)" stroke="#5070b0" stroke-width="0.9"/><g fill="none"><circle cx="127" cy="11.3" r="7.4" stroke="#9fb8e8" stroke-width="1.3"/><circle cx="127" cy="11.3" r="4.8" stroke="#7f9fe0" stroke-width="1.2"/><path d="M127,11.3 L127,19 A7.7,7.7 0 0 0 134.7,11.3 A7.7,7.7 0 0 0 131,4.8 Z" fill="#70c070" opacity="0.55" stroke="none"/><circle cx="127" cy="11.3" r="2.1" fill="#2060d8" stroke="none"/><path d="M127.3,12 V19.2" stroke="#10a020" stroke-width="1.4"/></g><path d="M146.3,11 L162.3,11 L157,15 L153.5,19.8 Z" fill="#ffd84a" stroke="#d0a000" stroke-width="0.8"/><path d="M146,9.5 C146,7.5 149,7.8 150,7 C150.5,3.6 157.5,3.3 158,6.8 C160,6.8 162.5,7.2 162.3,8.7 C161,11.2 147,11.8 146,9.5 Z" fill="#5aa8d8" stroke="#3080b0" stroke-width="0.8"/><circle cx="158.6" cy="15.7" r="4.3" fill="#e02010"/><rect x="156.8" y="14" width="3.6" height="3.4" fill="#fff"/><text x="167.5" y="15" font-family="Liberation Sans, Noto Sans CJK SC, sans-serif" font-size="12" fill="#000">自动交易</text><rect x="222" y="0" width="1" height="24" fill="#a0a0a0" shape-rendering="crispEdges"/><rect x="223" y="0" width="1" height="24" fill="#fff" shape-rendering="crispEdges"/><rect x="226" y="2" width="3" height="1" fill="#a0a0a0" shape-rendering="crispEdges"/><rect x="226" y="4" width="3" height="1" fill="#a0a0a0" shape-rendering="crispEdges"/><rect x="226" y="6" width="3" height="1" fill="#a0a0a0" shape-rendering="crispEdges"/><rect x="226" y="8" width="3" height="1" fill="#a0a0a0" shape-rendering="crispEdges"/><rect x="226" y="10" width="3" height="1" fill="#a0a0a0" shape-rendering="crispEdges"/><rect x="226" y="12" width="3" height="1" fill="#a0a0a0" shape-rendering="crispEdges"/><rect x="226" y="14" width="3" height="1" fill="#a0a0a0" shape-rendering="crispEdges"/><rect x="226" y="16" width="3" height="1" fill="#a0a0a0" shape-rendering="crispEdges"/><rect x="226" y="18" width="3" height="1" fill="#a0a0a0" shape-rendering="crispEdges"/><rect x="226" y="20" width="3" height="1" fill="#a0a0a0" shape-rendering="crispEdges"/><g fill="#505050" shape-rendering="crispEdges"><rect x="240" y="6" width="1" height="14"/><rect x="238" y="17" width="14" height="1"/><rect x="239" y="7" width="3" height="1"/><rect x="250" y="16" width="1" height="3"/></g><g fill="#505050" opacity="0.35" shape-rendering="crispEdges"><rect x="238" y="8" width="5" height="1"/><rect x="249" y="15" width="1" height="5"/></g><g fill="#10a010" shape-rendering="crispEdges"><rect x="246" y="7" width="1" height="9"/><rect x="247" y="8" width="2" height="1"/><rect x="244" y="14" width="2" height="1"/><rect x="247" y="7" width="1" height="9" opacity="0.35"/></g><rect x="260" y="0" width="25" height="22" fill="url(#chk)" shape-rendering="crispEdges"/><rect x="260" y="0" width="25" height="1" fill="#a0a0a0" shape-rendering="crispEdges"/><rect x="260" y="0" width="1" height="22" fill="#a0a0a0" shape-rendering="crispEdges"/><rect x="285" y="0" width="1" height="22" fill="#fff" shape-rendering="crispEdges"/><rect x="260" y="22" width="26" height="1" fill="#fff" shape-rendering="crispEdges"/><g fill="#505050" shape-rendering="crispEdges"><rect x="268" y="6" width="1" height="14"/><rect x="266" y="17" width="14" height="1"/><rect x="267" y="7" width="3" height="1"/><rect x="278" y="16" width="1" height="3"/></g><g fill="#505050" opacity="0.35" shape-rendering="crispEdges"><rect x="266" y="8" width="5" height="1"/><rect x="277" y="15" width="1" height="5"/></g><rect x="274" y="4" width="1" height="12" fill="#10a010" shape-rendering="crispEdges"/><rect x="272.5" y="6.5" width="4" height="7" fill="url(#ggreen)" stroke="#10a010" stroke-width="1"/><g fill="#505050" shape-rendering="crispEdges"><rect x="296" y="6" width="1" height="14"/><rect x="294" y="17" width="14" height="1"/><rect x="295" y="7" width="3" height="1"/><rect x="306" y="16" width="1" height="3"/></g><g fill="#505050" opacity="0.35" shape-rendering="crispEdges"><rect x="294" y="8" width="5" height="1"/><rect x="305" y="15" width="1" height="5"/></g><path d="M295,14.6 C298,13.5 299,9.4 301.2,9.4 C303.5,9.4 304,12.4 306.8,13" fill="none" stroke="#30a030" stroke-width="1.2"/><rect x="317" y="1" width="1" height="21" fill="#a0a0a0" shape-rendering="crispEdges"/><path d="M335.8,14 L341.3,19.5" stroke="#b08000" stroke-width="3.4" stroke-linecap="round"/><path d="M335.8,14 L341.1,19.3" stroke="#ffe060" stroke-width="1.6" stroke-linecap="round"/><circle cx="331.8" cy="9.9" r="5.4" fill="url(#glens)" stroke="#2e7fc8" stroke-width="1.3"/><rect x="328.6" y="9" width="6.4" height="1.9" fill="#3c82b4"/><rect x="330.85" y="6.7" width="1.9" height="6.4" fill="#3c82b4"/><path d="M364,14 L369.5,19.5" stroke="#b08000" stroke-width="3.4" stroke-linecap="round"/><path d="M364,14 L369.3,19.3" stroke="#ffe060" stroke-width="1.6" stroke-linecap="round"/><circle cx="360" cy="9.9" r="5.4" fill="url(#glens)" stroke="#2e7fc8" stroke-width="1.3"/><rect x="356.8" y="9" width="6.4" height="1.9" fill="#3c82b4"/><rect x="382" y="4" width="8" height="8" fill="#2aa010"/><rect x="383" y="6.6" width="6" height="4.6" fill="#fff"/><rect x="384" y="8.2" width="4" height="1.1" fill="#2aa010" opacity="0.45"/><rect x="383.3" y="5.2" width="1" height="1" fill="#fff" opacity="0.8"/><rect x="390" y="4" width="8" height="8" fill="#1848d0"/><rect x="391" y="6.6" width="6" height="4.6" fill="#fff"/><rect x="392" y="8.2" width="4" height="1.1" fill="#1848d0" opacity="0.45"/><rect x="391.3" y="5.2" width="1" height="1" fill="#fff" opacity="0.8"/><rect x="382" y="12" width="8" height="8" fill="#1848d0"/><rect x="383" y="14.6" width="6" height="4.6" fill="#fff"/><rect x="384" y="16.2" width="4" height="1.1" fill="#1848d0" opacity="0.45"/><rect x="383.3" y="13.2" width="1" height="1" fill="#fff" opacity="0.8"/><rect x="390" y="12" width="8" height="8" fill="#2aa010"/><rect x="391" y="14.6" width="6" height="4.6" fill="#fff"/><rect x="392" y="16.2" width="4" height="1.1" fill="#2aa010" opacity="0.45"/><rect x="391.3" y="13.2" width="1" height="1" fill="#fff" opacity="0.8"/><rect x="407" y="1" width="1" height="21" fill="#a0a0a0" shape-rendering="crispEdges"/><rect x="412" y="0" width="25" height="22" fill="url(#chk)" shape-rendering="crispEdges"/><rect x="412" y="0" width="25" height="1" fill="#a0a0a0" shape-rendering="crispEdges"/><rect x="412" y="0" width="1" height="22" fill="#a0a0a0" shape-rendering="crispEdges"/><rect x="437" y="0" width="1" height="22" fill="#fff" shape-rendering="crispEdges"/><rect x="412" y="22" width="26" height="1" fill="#fff" shape-rendering="crispEdges"/><g fill="#505050" shape-rendering="crispEdges"><rect x="420" y="6" width="1" height="14"/><rect x="418" y="17" width="14" height="1"/><rect x="419" y="7" width="3" height="1"/><rect x="430" y="16" width="1" height="3"/></g><g fill="#505050" opacity="0.35" shape-rendering="crispEdges"><rect x="418" y="8" width="5" height="1"/><rect x="429" y="15" width="1" height="5"/></g><path d="M425,8.2 L429.2,11.4 L425,14.8 Z" fill="#70e070" stroke="#10a010" stroke-width="1"/><rect x="440" y="0" width="25" height="22" fill="url(#chk)" shape-rendering="crispEdges"/><rect x="440" y="0" width="25" height="1" fill="#a0a0a0" shape-rendering="crispEdges"/><rect x="440" y="0" width="1" height="22" fill="#a0a0a0" shape-rendering="crispEdges"/><rect x="465" y="0" width="1" height="22" fill="#fff" shape-rendering="crispEdges"/><rect x="440" y="22" width="26" height="1" fill="#fff" shape-rendering="crispEdges"/><g fill="#505050" shape-rendering="crispEdges"><rect x="448" y="6" width="1" height="14"/><rect x="446" y="17" width="14" height="1"/><rect x="447" y="7" width="3" height="1"/><rect x="458" y="16" width="1" height="3"/></g><g fill="#505050" opacity="0.35" shape-rendering="crispEdges"><rect x="446" y="8" width="5" height="1"/><rect x="457" y="15" width="1" height="5"/></g><rect x="454" y="6" width="1" height="10" fill="#1070b0" shape-rendering="crispEdges"/><path d="M460,11.5 H456" stroke="#e04000" stroke-width="1.2"/><path d="M455.5,11.5 L458.5,9 L458,11.5 L458.5,14 Z" fill="#e04000"/><rect x="469" y="1" width="1" height="21" fill="#a0a0a0" shape-rendering="crispEdges"/><path d="M480,4.5 H487.5 L490.5,7.5 V17.5 H480 Z" fill="#fff" stroke="#909090" stroke-width="1"/><path d="M487.5,4.5 V7.5 H490.5" fill="none" stroke="#909090" stroke-width="0.8"/><path d="M484.5,7 C482,7 482.5,10 482.5,11 C482.5,14 482,15.5 484.5,15.5 M481.8,10 H485" stroke="#605030" stroke-width="0.9" fill="none"/><path d="M487.5,10.5 h3.5 v3.5 h4 v3.5 h-4 v4 h-3.5 v-4 h-4 v-3.5 h4 Z" fill="url(#gplus)" stroke="#008a10" stroke-width="1"/><path d="M501,11 h5 l-2.5,3 Z" fill="#000"/><circle cx="525" cy="11.8" r="7.8" fill="#0c50b0"/><circle cx="525" cy="11.8" r="7.2" fill="url(#gclk)"/><circle cx="525" cy="11.8" r="4.9" fill="#f4f6fa" stroke="#0a3c90" stroke-width="0.5"/><path d="M524.6,8.2 V12.1 H527.6" stroke="#202020" stroke-width="1.1" fill="none"/><rect x="524" y="14.6" width="2.2" height="0.9" fill="#70b0ff"/><g fill="#808890"><rect x="524.6" y="7.4" width="0.8" height="0.9"/><rect x="528.6" y="11.4" width="0.9" height="0.8"/><rect x="520.5" y="11.4" width="0.9" height="0.8"/><rect x="522" y="8.6" width="0.8" height="0.8"/><rect x="527.4" y="8.6" width="0.8" height="0.8"/><rect x="522" y="14.3" width="0.8" height="0.8"/><rect x="527.4" y="14.3" width="0.8" height="0.8"/></g><path d="M540,11 h5 l-2.5,3 Z" fill="#000"/><rect x="556.5" y="5.5" width="15" height="13" fill="#fff" stroke="#3a78c0" stroke-width="1"/><rect x="557" y="6" width="14" height="2" fill="#5a98d8"/><rect x="557" y="13" width="14" height="1" fill="#3a78c0"/><path d="M558.5,11.5 H560 L562,10 H563.5 L565,10.7 H567 L568.5,9.5 H570" stroke="#a02000" stroke-width="1.2" fill="none"/><path d="M559,16.5 H560.5 L562,15.5 H563.5 L564.5,16.4 L566.5,14.3 H567.5 L569.5,16.5" stroke="#109020" stroke-width="1.2" fill="none"/><path d="M579,11 h5 l-2.5,3 Z" fill="#000"/><rect x="590" y="0" width="1" height="24" fill="#a0a0a0" shape-rendering="crispEdges"/><rect x="591" y="0" width="1" height="24" fill="#fff" shape-rendering="crispEdges"/><rect x="594" y="2" width="3" height="1" fill="#a0a0a0" shape-rendering="crispEdges"/><rect x="594" y="4" width="3" height="1" fill="#a0a0a0" shape-rendering="crispEdges"/><rect x="594" y="6" width="3" height="1" fill="#a0a0a0" shape-rendering="crispEdges"/><rect x="594" y="8" width="3" height="1" fill="#a0a0a0" shape-rendering="crispEdges"/><rect x="594" y="10" width="3" height="1" fill="#a0a0a0" shape-rendering="crispEdges"/><rect x="594" y="12" width="3" height="1" fill="#a0a0a0" shape-rendering="crispEdges"/><rect x="594" y="14" width="3" height="1" fill="#a0a0a0" shape-rendering="crispEdges"/><rect x="594" y="16" width="3" height="1" fill="#a0a0a0" shape-rendering="crispEdges"/><rect x="594" y="18" width="3" height="1" fill="#a0a0a0" shape-rendering="crispEdges"/><rect x="594" y="20" width="3" height="1" fill="#a0a0a0" shape-rendering="crispEdges"/><rect x="600" y="0" width="25" height="22" fill="url(#chk)" shape-rendering="crispEdges"/><rect x="600" y="0" width="25" height="1" fill="#a0a0a0" shape-rendering="crispEdges"/><rect x="600" y="0" width="1" height="22" fill="#a0a0a0" shape-rendering="crispEdges"/><rect x="625" y="0" width="1" height="22" fill="#fff" shape-rendering="crispEdges"/><rect x="600" y="22" width="26" height="1" fill="#fff" shape-rendering="crispEdges"/><path d="M608,5 V16.2 L610.6,13.6 L613,19.2 L615,18.3 L612.7,12.9 L616.2,12.7 Z" fill="#505050"/><g fill="#404040" shape-rendering="crispEdges"><rect x="640" y="5" width="1" height="15"/><rect x="633" y="12" width="15" height="1"/></g><rect x="640" y="12" width="1" height="1" fill="#f0f0f0" shape-rendering="crispEdges"/><rect x="657" y="1" width="1" height="21" fill="#a0a0a0" shape-rendering="crispEdges"/><rect x="674" y="6" width="1" height="13" fill="#404040" shape-rendering="crispEdges"/><rect x="697" y="12" width="12" height="1" fill="#404040" shape-rendering="crispEdges"/><path d="M725,19 L737,7" stroke="#404040" stroke-width="1.1"/><g stroke="#404040" stroke-width="0.9" fill="none"><path d="M751,14 L760,6.5"/><path d="M752,18.5 L765,8"/><path d="M755,17.5 L766,9"/><path d="M753,17 L754.5,11.5 L756.5,15 L758.5,9.5 L760.5,13 L762.5,5.5 L763.5,11"/></g><text x="762" y="21" font-family="Liberation Sans, sans-serif" font-weight="bold" font-size="6.5" fill="#303030">E</text><path d="M780,5.5 h14" stroke="#404040" stroke-width="1" stroke-dasharray="1,1" shape-rendering="crispEdges"/><path d="M780,8.5 h14" stroke="#404040" stroke-width="1" stroke-dasharray="1,1" shape-rendering="crispEdges"/><path d="M780,12.5 h14" stroke="#404040" stroke-width="1" stroke-dasharray="1,1" shape-rendering="crispEdges"/><path d="M780,16.5 h9" stroke="#404040" stroke-width="1" stroke-dasharray="1,1" shape-rendering="crispEdges"/><text x="790" y="21" font-family="Liberation Sans, sans-serif" font-weight="bold" font-size="6.5" fill="#303030">F</text><text x="810.8" y="16.9" font-family="Liberation Sans, sans-serif" font-size="11.6" fill="#505050" stroke="#505050" stroke-width="0.3">A</text><rect x="837.5" y="6.5" width="11" height="12" fill="none" stroke="#505050" stroke-width="1" stroke-dasharray="1,1" shape-rendering="crispEdges"/><text x="839" y="16.6" font-family="Liberation Sans, sans-serif" font-size="11.5" fill="#505050" stroke="#505050" stroke-width="0.3">T</text><path d="M864,9 L867.5,6 L871,9 L867.5,11 Z" fill="#505050"/><path d="M871,16 L874.5,14 L878,16 L874.5,19 Z" fill="#505050"/><path d="M866.5,13 L868.5,15 L873,10.5" fill="none" stroke="#505050" stroke-width="1.3"/><path d="M885,11 h5 l-2.5,3 Z" fill="#000"/><rect x="896" y="0" width="1" height="24" fill="#a0a0a0" shape-rendering="crispEdges"/><rect x="897" y="0" width="1" height="24" fill="#fff" shape-rendering="crispEdges"/><rect x="900" y="2" width="3" height="1" fill="#a0a0a0" shape-rendering="crispEdges"/><rect x="900" y="4" width="3" height="1" fill="#a0a0a0" shape-rendering="crispEdges"/><rect x="900" y="6" width="3" height="1" fill="#a0a0a0" shape-rendering="crispEdges"/><rect x="900" y="8" width="3" height="1" fill="#a0a0a0" shape-rendering="crispEdges"/><rect x="900" y="10" width="3" height="1" fill="#a0a0a0" shape-rendering="crispEdges"/><rect x="900" y="12" width="3" height="1" fill="#a0a0a0" shape-rendering="crispEdges"/><rect x="900" y="14" width="3" height="1" fill="#a0a0a0" shape-rendering="crispEdges"/><rect x="900" y="16" width="3" height="1" fill="#a0a0a0" shape-rendering="crispEdges"/><rect x="900" y="18" width="3" height="1" fill="#a0a0a0" shape-rendering="crispEdges"/><rect x="900" y="20" width="3" height="1" fill="#a0a0a0" shape-rendering="crispEdges"/><rect x="1074" y="0" width="25" height="22" fill="url(#chk)" shape-rendering="crispEdges"/><rect x="1074" y="0" width="25" height="1" fill="#a0a0a0" shape-rendering="crispEdges"/><rect x="1074" y="0" width="1" height="22" fill="#a0a0a0" shape-rendering="crispEdges"/><rect x="1099" y="0" width="1" height="22" fill="#fff" shape-rendering="crispEdges"/><rect x="1074" y="22" width="26" height="1" fill="#fff" shape-rendering="crispEdges"/><text x="918.0" y="16.2" text-anchor="middle" font-family="Liberation Sans, sans-serif" font-size="9.8" fill="#404040">M1</text><text x="946.1" y="16.2" text-anchor="middle" font-family="Liberation Sans, sans-serif" font-size="9.8" fill="#404040">M5</text><text x="974.2" y="16.2" text-anchor="middle" font-family="Liberation Sans, sans-serif" font-size="9.8" fill="#404040">M15</text><text x="1002.3" y="16.2" text-anchor="middle" font-family="Liberation Sans, sans-serif" font-size="9.8" fill="#404040">M30</text><text x="1030.4" y="16.2" text-anchor="middle" font-family="Liberation Sans, sans-serif" font-size="9.8" fill="#404040">H1</text><text x="1058.5" y="16.2" text-anchor="middle" font-family="Liberation Sans, sans-serif" font-size="9.8" fill="#404040">H4</text><text x="1086.6" y="16.2" text-anchor="middle" font-family="Liberation Sans, sans-serif" font-size="9.8" fill="#404040">D1</text><text x="1114.7" y="16.2" text-anchor="middle" font-family="Liberation Sans, sans-serif" font-size="9.8" fill="#404040">W1</text><text x="1142.8" y="16.2" text-anchor="middle" font-family="Liberation Sans, sans-serif" font-size="9.8" fill="#404040">MN</text><rect x="1157" y="0" width="1" height="24" fill="#a0a0a0" shape-rendering="crispEdges"/><path d="M1624.2,12.6 L1620.3,16.8" stroke="#1c48c8" stroke-width="2.6" stroke-linecap="round"/><circle cx="1627.5" cy="9.5" r="3.9" fill="#fff" stroke="#2858e0" stroke-width="1.3"/><path d="M1662.5,13.2 L1664,15.6 L1660.5,13.6" fill="#e8e8f0" stroke="#808080" stroke-width="0.9"/><ellipse cx="1660.2" cy="8.9" rx="6.4" ry="4.7" fill="#f6f6fa" stroke="#8c8c8c" stroke-width="1"/><path d="M1649,16 L1648.2,18.8 L1652,16.4" fill="#e8e8f0" stroke="#808080" stroke-width="0.9"/><ellipse cx="1651.4" cy="12.9" rx="5.1" ry="3.9" fill="#f2f2f8" stroke="#8c8c8c" stroke-width="1"/></svg></div>
</body></html>
